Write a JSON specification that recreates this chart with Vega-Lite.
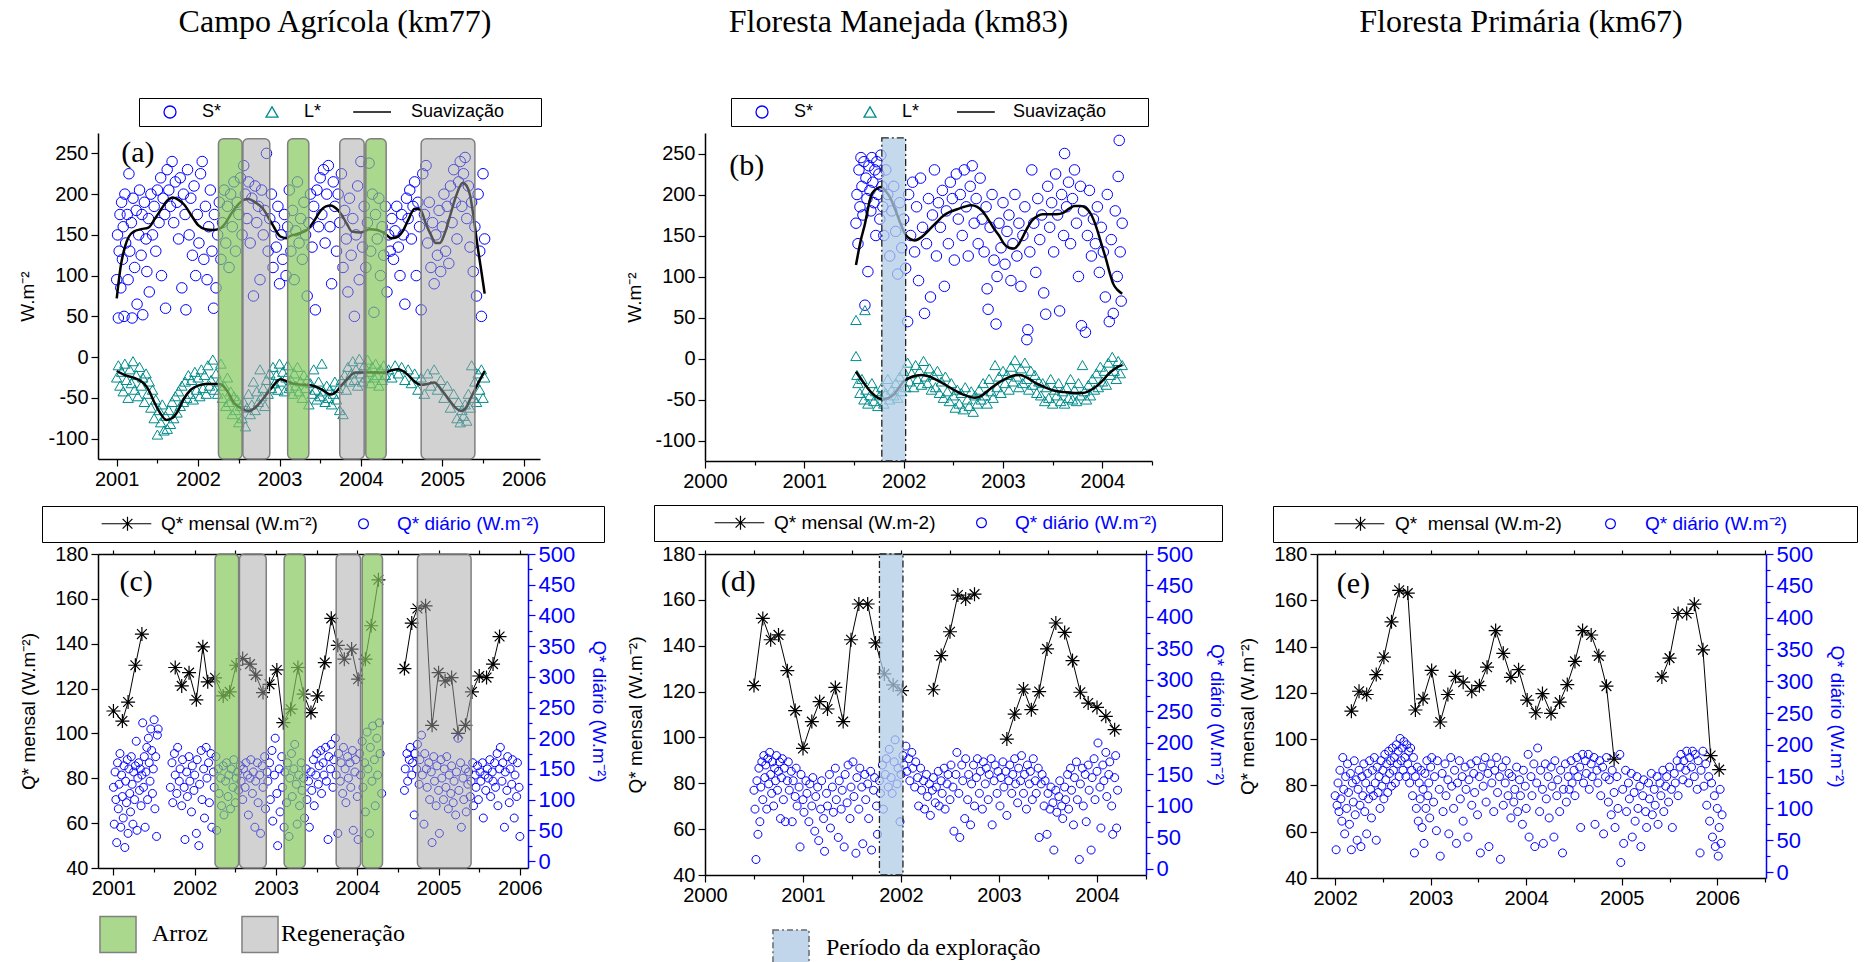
{
"$schema": "https://vega.github.io/schema/vega-lite/v6.json",
"padding": {"left": 18, "top": 5, "right": 5, "bottom": 0},
"bounds": "flush",
"columns": 3,
"spacing": {"row": 93, "column": 165},
"config": {
  "font": "Liberation Sans",
  "view": {"stroke": null},
  "point": {"opacity": 1},
  "axis": {"labelFont": "Liberation Sans", "labelFontSize": 20, "labelColor": "black", "titleFont": "Liberation Sans", "titleFontSize": 19, "titleFontWeight": "normal", "titleColor": "black", "domainColor": "black", "domainWidth": 1.5, "tickColor": "black", "tickWidth": 1.2, "grid": false, "labelPadding": 3, "labelOverlap": false, "labelFlush": false},
  "legend": {"labelFont": "Liberation Sans", "labelFontSize": 19, "labelColor": "black", "labelLimit": 500},
  "title": {"font": "Liberation Serif", "fontSize": 32, "fontWeight": "normal", "color": "black"}
},
"resolve": {"scale": {"x": "independent", "y": "independent", "stroke": "independent", "shape": "independent", "fill": "independent"}, "legend": {"stroke": "independent", "shape": "independent", "fill": "independent"}, "axis": {"x": "independent", "y": "independent"}},
"datasets": {
"aS": [{"t":2001.00,"v":95},{"t":2001.01,"v":150},{"t":2001.02,"v":48},{"t":2001.03,"v":130},{"t":2001.04,"v":175},{"t":2001.05,"v":85},{"t":2001.06,"v":190},{"t":2001.07,"v":120},{"t":2001.08,"v":160},{"t":2001.09,"v":50},{"t":2001.10,"v":200},{"t":2001.11,"v":140},{"t":2001.13,"v":175},{"t":2001.14,"v":95},{"t":2001.15,"v":225},{"t":2001.16,"v":130},{"t":2001.18,"v":165},{"t":2001.19,"v":48},{"t":2001.20,"v":195},{"t":2001.22,"v":110},{"t":2001.24,"v":180},{"t":2001.25,"v":65},{"t":2001.27,"v":150},{"t":2001.28,"v":205},{"t":2001.30,"v":125},{"t":2001.31,"v":175},{"t":2001.32,"v":52},{"t":2001.34,"v":190},{"t":2001.36,"v":145},{"t":2001.37,"v":105},{"t":2001.39,"v":170},{"t":2001.40,"v":80},{"t":2001.42,"v":200},{"t":2001.44,"v":150},{"t":2001.46,"v":185},{"t":2001.48,"v":130},{"t":2001.50,"v":205},{"t":2001.52,"v":165},{"t":2001.54,"v":220},{"t":2001.55,"v":100},{"t":2001.57,"v":195},{"t":2001.59,"v":175},{"t":2001.60,"v":60},{"t":2001.62,"v":230},{"t":2001.64,"v":205},{"t":2001.66,"v":185},{"t":2001.68,"v":240},{"t":2001.70,"v":165},{"t":2001.72,"v":215},{"t":2001.74,"v":190},{"t":2001.76,"v":145},{"t":2001.78,"v":220},{"t":2001.80,"v":85},{"t":2001.82,"v":200},{"t":2001.84,"v":175},{"t":2001.85,"v":58},{"t":2001.87,"v":230},{"t":2001.89,"v":150},{"t":2001.91,"v":195},{"t":2001.93,"v":125},{"t":2001.95,"v":210},{"t":2001.97,"v":100},{"t":2001.99,"v":175},{"t":2002.01,"v":140},{"t":2002.03,"v":225},{"t":2002.05,"v":240},{"t":2002.07,"v":120},{"t":2002.09,"v":185},{"t":2002.11,"v":95},{"t":2002.13,"v":160},{"t":2002.15,"v":205},{"t":2002.17,"v":130},{"t":2002.19,"v":60},{"t":2002.20,"v":175},{"t":2002.22,"v":85},{"t":2002.24,"v":150},{"t":2002.26,"v":190},{"t":2002.28,"v":120},{"t":2002.30,"v":165},{"t":2002.32,"v":205},{"t":2002.34,"v":140},{"t":2002.36,"v":185},{"t":2002.38,"v":110},{"t":2002.40,"v":200},{"t":2002.42,"v":160},{"t":2002.44,"v":215},{"t":2002.46,"v":130},{"t":2002.48,"v":190},{"t":2002.50,"v":175},{"t":2002.52,"v":220},{"t":2002.54,"v":150},{"t":2002.56,"v":235},{"t":2002.58,"v":200},{"t":2002.60,"v":170},{"t":2002.62,"v":215},{"t":2002.64,"v":140},{"t":2002.66,"v":195},{"t":2002.68,"v":75},{"t":2002.70,"v":210},{"t":2002.72,"v":165},{"t":2002.74,"v":185},{"t":2002.76,"v":95},{"t":2002.78,"v":205},{"t":2002.80,"v":150},{"t":2002.82,"v":180},{"t":2002.84,"v":250},{"t":2002.86,"v":130},{"t":2002.88,"v":170},{"t":2002.90,"v":200},{"t":2002.92,"v":110},{"t":2002.94,"v":160},{"t":2002.96,"v":135},{"t":2002.98,"v":185},{"t":2003.00,"v":90},{"t":2003.02,"v":150},{"t":2003.04,"v":120},{"t":2003.06,"v":175},{"t":2003.08,"v":100},{"t":2003.10,"v":160},{"t":2003.12,"v":205},{"t":2003.14,"v":130},{"t":2003.16,"v":180},{"t":2003.18,"v":95},{"t":2003.20,"v":155},{"t":2003.22,"v":215},{"t":2003.24,"v":140},{"t":2003.26,"v":170},{"t":2003.28,"v":120},{"t":2003.30,"v":190},{"t":2003.32,"v":150},{"t":2003.34,"v":75},{"t":2003.36,"v":165},{"t":2003.38,"v":200},{"t":2003.40,"v":135},{"t":2003.42,"v":185},{"t":2003.44,"v":58},{"t":2003.46,"v":205},{"t":2003.48,"v":160},{"t":2003.50,"v":220},{"t":2003.52,"v":175},{"t":2003.54,"v":230},{"t":2003.56,"v":140},{"t":2003.58,"v":200},{"t":2003.60,"v":235},{"t":2003.62,"v":160},{"t":2003.64,"v":90},{"t":2003.66,"v":215},{"t":2003.68,"v":185},{"t":2003.70,"v":130},{"t":2003.72,"v":200},{"t":2003.74,"v":165},{"t":2003.76,"v":225},{"t":2003.78,"v":110},{"t":2003.80,"v":180},{"t":2003.82,"v":145},{"t":2003.84,"v":80},{"t":2003.86,"v":195},{"t":2003.88,"v":125},{"t":2003.90,"v":170},{"t":2003.92,"v":50},{"t":2003.94,"v":150},{"t":2003.96,"v":210},{"t":2003.98,"v":95},{"t":2004.00,"v":240},{"t":2004.02,"v":135},{"t":2004.04,"v":185},{"t":2004.06,"v":110},{"t":2004.08,"v":165},{"t":2004.10,"v":238},{"t":2004.12,"v":130},{"t":2004.14,"v":200},{"t":2004.16,"v":55},{"t":2004.18,"v":175},{"t":2004.20,"v":145},{"t":2004.22,"v":195},{"t":2004.24,"v":100},{"t":2004.26,"v":160},{"t":2004.28,"v":125},{"t":2004.30,"v":185},{"t":2004.32,"v":80},{"t":2004.34,"v":150},{"t":2004.36,"v":130},{"t":2004.38,"v":170},{"t":2004.40,"v":120},{"t":2004.42,"v":155},{"t":2004.44,"v":185},{"t":2004.46,"v":135},{"t":2004.48,"v":100},{"t":2004.50,"v":175},{"t":2004.52,"v":150},{"t":2004.54,"v":65},{"t":2004.56,"v":195},{"t":2004.58,"v":170},{"t":2004.60,"v":205},{"t":2004.62,"v":145},{"t":2004.64,"v":185},{"t":2004.66,"v":215},{"t":2004.68,"v":100},{"t":2004.70,"v":190},{"t":2004.72,"v":160},{"t":2004.74,"v":58},{"t":2004.76,"v":225},{"t":2004.78,"v":175},{"t":2004.80,"v":235},{"t":2004.82,"v":140},{"t":2004.84,"v":190},{"t":2004.86,"v":110},{"t":2004.88,"v":165},{"t":2004.90,"v":90},{"t":2004.92,"v":150},{"t":2004.94,"v":125},{"t":2004.96,"v":180},{"t":2004.98,"v":105},{"t":2005.00,"v":160},{"t":2005.02,"v":200},{"t":2005.04,"v":130},{"t":2005.06,"v":185},{"t":2005.08,"v":115},{"t":2005.10,"v":210},{"t":2005.12,"v":165},{"t":2005.14,"v":230},{"t":2005.16,"v":190},{"t":2005.18,"v":145},{"t":2005.20,"v":215},{"t":2005.22,"v":240},{"t":2005.24,"v":185},{"t":2005.26,"v":225},{"t":2005.28,"v":245},{"t":2005.30,"v":170},{"t":2005.32,"v":210},{"t":2005.34,"v":135},{"t":2005.36,"v":190},{"t":2005.38,"v":105},{"t":2005.40,"v":160},{"t":2005.42,"v":75},{"t":2005.44,"v":200},{"t":2005.46,"v":130},{"t":2005.48,"v":50},{"t":2005.50,"v":225},{"t":2005.52,"v":145}],
"aL": [{"t":2001.00,"v":-25},{"t":2001.02,"v":-10},{"t":2001.04,"v":-35},{"t":2001.06,"v":-18},{"t":2001.08,"v":-42},{"t":2001.10,"v":-8},{"t":2001.12,"v":-28},{"t":2001.14,"v":-50},{"t":2001.16,"v":-15},{"t":2001.18,"v":-32},{"t":2001.20,"v":-5},{"t":2001.22,"v":-40},{"t":2001.24,"v":-22},{"t":2001.26,"v":-48},{"t":2001.28,"v":-12},{"t":2001.30,"v":-35},{"t":2001.32,"v":-25},{"t":2001.34,"v":-55},{"t":2001.36,"v":-20},{"t":2001.38,"v":-45},{"t":2001.40,"v":-30},{"t":2001.42,"v":-62},{"t":2001.44,"v":-40},{"t":2001.46,"v":-75},{"t":2001.48,"v":-52},{"t":2001.50,"v":-95},{"t":2001.52,"v":-65},{"t":2001.54,"v":-80},{"t":2001.56,"v":-58},{"t":2001.58,"v":-90},{"t":2001.60,"v":-72},{"t":2001.62,"v":-88},{"t":2001.64,"v":-65},{"t":2001.66,"v":-82},{"t":2001.68,"v":-55},{"t":2001.70,"v":-75},{"t":2001.72,"v":-48},{"t":2001.74,"v":-68},{"t":2001.76,"v":-42},{"t":2001.78,"v":-60},{"t":2001.80,"v":-35},{"t":2001.82,"v":-55},{"t":2001.84,"v":-30},{"t":2001.86,"v":-50},{"t":2001.88,"v":-22},{"t":2001.90,"v":-45},{"t":2001.92,"v":-28},{"t":2001.94,"v":-52},{"t":2001.96,"v":-18},{"t":2001.98,"v":-40},{"t":2002.00,"v":-25},{"t":2002.02,"v":-48},{"t":2002.04,"v":-15},{"t":2002.06,"v":-38},{"t":2002.08,"v":-22},{"t":2002.10,"v":-45},{"t":2002.12,"v":-10},{"t":2002.14,"v":-35},{"t":2002.16,"v":-28},{"t":2002.18,"v":-3},{"t":2002.20,"v":-40},{"t":2002.22,"v":-20},{"t":2002.24,"v":-45},{"t":2002.26,"v":-30},{"t":2002.28,"v":-8},{"t":2002.30,"v":-50},{"t":2002.32,"v":-35},{"t":2002.34,"v":-60},{"t":2002.36,"v":-25},{"t":2002.38,"v":-55},{"t":2002.40,"v":-42},{"t":2002.42,"v":-70},{"t":2002.44,"v":-48},{"t":2002.46,"v":-65},{"t":2002.48,"v":-52},{"t":2002.50,"v":-80},{"t":2002.52,"v":-60},{"t":2002.54,"v":-75},{"t":2002.56,"v":-55},{"t":2002.58,"v":-85},{"t":2002.60,"v":-62},{"t":2002.62,"v":-45},{"t":2002.64,"v":-70},{"t":2002.66,"v":-58},{"t":2002.68,"v":-30},{"t":2002.70,"v":-65},{"t":2002.72,"v":-42},{"t":2002.74,"v":-55},{"t":2002.76,"v":-15},{"t":2002.78,"v":-48},{"t":2002.80,"v":-38},{"t":2002.82,"v":-60},{"t":2002.84,"v":-28},{"t":2002.86,"v":-45},{"t":2002.88,"v":-20},{"t":2002.90,"v":-38},{"t":2002.92,"v":-12},{"t":2002.94,"v":-32},{"t":2002.96,"v":-22},{"t":2002.98,"v":-40},{"t":2003.00,"v":-8},{"t":2003.02,"v":-30},{"t":2003.04,"v":-18},{"t":2003.06,"v":-42},{"t":2003.08,"v":-25},{"t":2003.10,"v":-10},{"t":2003.12,"v":-38},{"t":2003.14,"v":-28},{"t":2003.16,"v":-45},{"t":2003.18,"v":-20},{"t":2003.20,"v":-35},{"t":2003.22,"v":-12},{"t":2003.24,"v":-42},{"t":2003.26,"v":-30},{"t":2003.28,"v":-50},{"t":2003.30,"v":-22},{"t":2003.32,"v":-38},{"t":2003.34,"v":-28},{"t":2003.36,"v":-58},{"t":2003.38,"v":-32},{"t":2003.40,"v":-45},{"t":2003.42,"v":-15},{"t":2003.44,"v":-40},{"t":2003.46,"v":-52},{"t":2003.48,"v":-30},{"t":2003.50,"v":-48},{"t":2003.52,"v":-8},{"t":2003.54,"v":-42},{"t":2003.56,"v":-55},{"t":2003.58,"v":-35},{"t":2003.60,"v":-50},{"t":2003.62,"v":-40},{"t":2003.64,"v":-58},{"t":2003.66,"v":-45},{"t":2003.68,"v":-30},{"t":2003.70,"v":-52},{"t":2003.72,"v":-38},{"t":2003.74,"v":-65},{"t":2003.76,"v":-28},{"t":2003.78,"v":-70},{"t":2003.80,"v":-22},{"t":2003.82,"v":-40},{"t":2003.84,"v":-12},{"t":2003.86,"v":-30},{"t":2003.88,"v":-20},{"t":2003.90,"v":-5},{"t":2003.92,"v":-28},{"t":2003.94,"v":-15},{"t":2003.96,"v":-35},{"t":2003.98,"v":-2},{"t":2004.00,"v":-20},{"t":2004.02,"v":-30},{"t":2004.04,"v":-10},{"t":2004.06,"v":-25},{"t":2004.08,"v":-3},{"t":2004.10,"v":-18},{"t":2004.12,"v":-32},{"t":2004.14,"v":-12},{"t":2004.16,"v":-25},{"t":2004.18,"v":-8},{"t":2004.20,"v":-22},{"t":2004.22,"v":-35},{"t":2004.24,"v":-15},{"t":2004.26,"v":-28},{"t":2004.28,"v":-10},{"t":2004.30,"v":-22},{"t":2004.34,"v":-15},{"t":2004.38,"v":-25},{"t":2004.42,"v":-10},{"t":2004.46,"v":-20},{"t":2004.50,"v":-12},{"t":2004.54,"v":-28},{"t":2004.58,"v":-15},{"t":2004.62,"v":-32},{"t":2004.66,"v":-20},{"t":2004.70,"v":-40},{"t":2004.74,"v":-25},{"t":2004.78,"v":-45},{"t":2004.82,"v":-20},{"t":2004.86,"v":-35},{"t":2004.90,"v":-15},{"t":2004.94,"v":-40},{"t":2004.98,"v":-28},{"t":2005.02,"v":-50},{"t":2005.06,"v":-35},{"t":2005.10,"v":-62},{"t":2005.14,"v":-45},{"t":2005.18,"v":-75},{"t":2005.20,"v":-55},{"t":2005.22,"v":-80},{"t":2005.24,"v":-65},{"t":2005.26,"v":-72},{"t":2005.28,"v":-58},{"t":2005.30,"v":-78},{"t":2005.32,"v":-45},{"t":2005.34,"v":-62},{"t":2005.36,"v":-10},{"t":2005.38,"v":-50},{"t":2005.40,"v":-30},{"t":2005.42,"v":-55},{"t":2005.44,"v":-20},{"t":2005.46,"v":-40},{"t":2005.48,"v":-15},{"t":2005.50,"v":-50},{"t":2005.52,"v":-25}],
"aSs": [{"t":2001.0,"v":72},{"t":2001.05,"v":112},{"t":2001.1,"v":135},{"t":2001.15,"v":148},{"t":2001.21,"v":154},{"t":2001.3,"v":157},{"t":2001.39,"v":159},{"t":2001.47,"v":170},{"t":2001.55,"v":182},{"t":2001.62,"v":192},{"t":2001.69,"v":196},{"t":2001.76,"v":193},{"t":2001.83,"v":187},{"t":2001.91,"v":175},{"t":2002.0,"v":162},{"t":2002.09,"v":157},{"t":2002.18,"v":156},{"t":2002.27,"v":158},{"t":2002.34,"v":165},{"t":2002.4,"v":175},{"t":2002.5,"v":188},{"t":2002.56,"v":193},{"t":2002.62,"v":194},{"t":2002.7,"v":190},{"t":2002.79,"v":183},{"t":2002.9,"v":165},{"t":2003.01,"v":148},{"t":2003.08,"v":146},{"t":2003.14,"v":149},{"t":2003.25,"v":152},{"t":2003.36,"v":158},{"t":2003.43,"v":168},{"t":2003.5,"v":179},{"t":2003.57,"v":185},{"t":2003.63,"v":186},{"t":2003.7,"v":182},{"t":2003.76,"v":175},{"t":2003.83,"v":163},{"t":2003.89,"v":154},{"t":2004.0,"v":153},{"t":2004.11,"v":157},{"t":2004.2,"v":156},{"t":2004.29,"v":152},{"t":2004.37,"v":146},{"t":2004.44,"v":147},{"t":2004.51,"v":154},{"t":2004.58,"v":168},{"t":2004.66,"v":182},{"t":2004.73,"v":181},{"t":2004.8,"v":163},{"t":2004.86,"v":150},{"t":2004.92,"v":140},{"t":2004.97,"v":140},{"t":2005.03,"v":152},{"t":2005.1,"v":175},{"t":2005.17,"v":198},{"t":2005.25,"v":214},{"t":2005.3,"v":210},{"t":2005.34,"v":199},{"t":2005.38,"v":175},{"t":2005.43,"v":138},{"t":2005.48,"v":105},{"t":2005.52,"v":78}],
"aLs": [{"t":2001.0,"v":-17},{"t":2001.1,"v":-22},{"t":2001.25,"v":-27},{"t":2001.33,"v":-32},{"t":2001.39,"v":-40},{"t":2001.46,"v":-55},{"t":2001.53,"v":-68},{"t":2001.61,"v":-77},{"t":2001.68,"v":-75},{"t":2001.74,"v":-68},{"t":2001.82,"v":-52},{"t":2001.91,"v":-40},{"t":2002.0,"v":-35},{"t":2002.09,"v":-33},{"t":2002.27,"v":-33},{"t":2002.36,"v":-42},{"t":2002.44,"v":-56},{"t":2002.53,"v":-63},{"t":2002.62,"v":-66},{"t":2002.7,"v":-62},{"t":2002.79,"v":-52},{"t":2002.9,"v":-38},{"t":2003.01,"v":-27},{"t":2003.1,"v":-30},{"t":2003.19,"v":-33},{"t":2003.3,"v":-34},{"t":2003.41,"v":-35},{"t":2003.52,"v":-40},{"t":2003.63,"v":-46},{"t":2003.7,"v":-42},{"t":2003.76,"v":-35},{"t":2003.85,"v":-25},{"t":2003.93,"v":-19},{"t":2004.11,"v":-19},{"t":2004.29,"v":-19},{"t":2004.38,"v":-16},{"t":2004.46,"v":-15},{"t":2004.53,"v":-18},{"t":2004.59,"v":-23},{"t":2004.66,"v":-30},{"t":2004.73,"v":-34},{"t":2004.82,"v":-33},{"t":2004.9,"v":-31},{"t":2004.99,"v":-40},{"t":2005.08,"v":-52},{"t":2005.16,"v":-62},{"t":2005.23,"v":-66},{"t":2005.29,"v":-62},{"t":2005.34,"v":-52},{"t":2005.4,"v":-40},{"t":2005.45,"v":-30},{"t":2005.52,"v":-17}],
"bS": [{"t":2001.52,"v":165},{"t":2001.53,"v":200},{"t":2001.54,"v":140},{"t":2001.55,"v":230},{"t":2001.56,"v":185},{"t":2001.57,"v":245},{"t":2001.58,"v":210},{"t":2001.59,"v":175},{"t":2001.60,"v":240},{"t":2001.61,"v":65},{"t":2001.62,"v":220},{"t":2001.63,"v":195},{"t":2001.64,"v":106},{"t":2001.65,"v":235},{"t":2001.66,"v":205},{"t":2001.67,"v":180},{"t":2001.68,"v":245},{"t":2001.69,"v":215},{"t":2001.70,"v":190},{"t":2001.71,"v":230},{"t":2001.72,"v":150},{"t":2001.73,"v":240},{"t":2001.74,"v":200},{"t":2001.75,"v":225},{"t":2001.76,"v":170},{"t":2001.77,"v":248},{"t":2001.78,"v":210},{"t":2001.79,"v":185},{"t":2001.80,"v":150},{"t":2001.82,"v":230},{"t":2001.84,"v":200},{"t":2001.86,"v":125},{"t":2001.88,"v":180},{"t":2001.90,"v":210},{"t":2001.92,"v":155},{"t":2001.94,"v":103},{"t":2001.96,"v":190},{"t":2001.98,"v":135},{"t":2002.00,"v":170},{"t":2002.02,"v":110},{"t":2002.04,"v":45},{"t":2002.05,"v":200},{"t":2002.07,"v":150},{"t":2002.09,"v":215},{"t":2002.11,"v":130},{"t":2002.13,"v":185},{"t":2002.15,"v":95},{"t":2002.17,"v":220},{"t":2002.19,"v":160},{"t":2002.21,"v":55},{"t":2002.23,"v":140},{"t":2002.25,"v":195},{"t":2002.27,"v":75},{"t":2002.29,"v":175},{"t":2002.31,"v":230},{"t":2002.33,"v":125},{"t":2002.35,"v":190},{"t":2002.37,"v":160},{"t":2002.39,"v":205},{"t":2002.41,"v":88},{"t":2002.43,"v":180},{"t":2002.45,"v":140},{"t":2002.47,"v":215},{"t":2002.49,"v":195},{"t":2002.51,"v":120},{"t":2002.53,"v":225},{"t":2002.55,"v":170},{"t":2002.57,"v":200},{"t":2002.59,"v":150},{"t":2002.61,"v":230},{"t":2002.63,"v":185},{"t":2002.65,"v":125},{"t":2002.67,"v":210},{"t":2002.69,"v":235},{"t":2002.71,"v":165},{"t":2002.73,"v":195},{"t":2002.75,"v":140},{"t":2002.77,"v":220},{"t":2002.79,"v":170},{"t":2002.81,"v":130},{"t":2002.83,"v":185},{"t":2002.84,"v":85},{"t":2002.85,"v":60},{"t":2002.87,"v":160},{"t":2002.89,"v":200},{"t":2002.91,"v":120},{"t":2002.93,"v":42},{"t":2002.94,"v":100},{"t":2002.96,"v":165},{"t":2002.98,"v":135},{"t":2003.00,"v":190},{"t":2003.02,"v":115},{"t":2003.04,"v":155},{"t":2003.06,"v":175},{"t":2003.08,"v":95},{"t":2003.10,"v":140},{"t":2003.12,"v":200},{"t":2003.14,"v":125},{"t":2003.16,"v":165},{"t":2003.18,"v":88},{"t":2003.20,"v":150},{"t":2003.22,"v":185},{"t":2003.24,"v":23},{"t":2003.25,"v":35},{"t":2003.27,"v":130},{"t":2003.29,"v":230},{"t":2003.31,"v":165},{"t":2003.33,"v":105},{"t":2003.35,"v":195},{"t":2003.37,"v":145},{"t":2003.39,"v":175},{"t":2003.41,"v":80},{"t":2003.43,"v":54},{"t":2003.45,"v":210},{"t":2003.47,"v":160},{"t":2003.49,"v":190},{"t":2003.51,"v":130},{"t":2003.53,"v":225},{"t":2003.55,"v":175},{"t":2003.57,"v":58},{"t":2003.59,"v":200},{"t":2003.61,"v":150},{"t":2003.62,"v":250},{"t":2003.64,"v":185},{"t":2003.66,"v":215},{"t":2003.68,"v":140},{"t":2003.70,"v":195},{"t":2003.72,"v":230},{"t":2003.74,"v":165},{"t":2003.76,"v":100},{"t":2003.78,"v":210},{"t":2003.79,"v":40},{"t":2003.81,"v":180},{"t":2003.83,"v":32},{"t":2003.85,"v":150},{"t":2003.87,"v":205},{"t":2003.89,"v":125},{"t":2003.91,"v":170},{"t":2003.93,"v":140},{"t":2003.95,"v":185},{"t":2003.97,"v":105},{"t":2003.99,"v":160},{"t":2004.01,"v":130},{"t":2004.03,"v":75},{"t":2004.05,"v":200},{"t":2004.07,"v":45},{"t":2004.09,"v":145},{"t":2004.11,"v":55},{"t":2004.13,"v":180},{"t":2004.15,"v":100},{"t":2004.16,"v":222},{"t":2004.17,"v":266},{"t":2004.18,"v":130},{"t":2004.19,"v":70},{"t":2004.20,"v":165}],
"bL": [{"t":2001.52,"v":47},{"t":2001.52,"v":3},{"t":2001.61,"v":59},{"t":2001.53,"v":-20},{"t":2001.54,"v":-30},{"t":2001.56,"v":-42},{"t":2001.58,"v":-25},{"t":2001.60,"v":-50},{"t":2001.62,"v":-38},{"t":2001.64,"v":-55},{"t":2001.66,"v":-45},{"t":2001.68,"v":-30},{"t":2001.70,"v":-52},{"t":2001.72,"v":-40},{"t":2001.74,"v":-58},{"t":2001.76,"v":-45},{"t":2001.78,"v":-35},{"t":2001.80,"v":-55},{"t":2001.82,"v":-42},{"t":2001.84,"v":-25},{"t":2001.86,"v":-50},{"t":2001.88,"v":-38},{"t":2001.90,"v":-45},{"t":2001.92,"v":-30},{"t":2001.94,"v":-48},{"t":2001.96,"v":-22},{"t":2001.98,"v":-40},{"t":2002.00,"v":-15},{"t":2002.02,"v":-35},{"t":2002.04,"v":-5},{"t":2002.06,"v":-28},{"t":2002.08,"v":-18},{"t":2002.10,"v":-35},{"t":2002.12,"v":-8},{"t":2002.14,"v":-25},{"t":2002.16,"v":-15},{"t":2002.18,"v":-32},{"t":2002.20,"v":-3},{"t":2002.22,"v":-22},{"t":2002.24,"v":-30},{"t":2002.26,"v":-12},{"t":2002.28,"v":-38},{"t":2002.30,"v":-20},{"t":2002.32,"v":-35},{"t":2002.34,"v":-15},{"t":2002.36,"v":-42},{"t":2002.38,"v":-28},{"t":2002.40,"v":-48},{"t":2002.42,"v":-22},{"t":2002.44,"v":-40},{"t":2002.46,"v":-52},{"t":2002.48,"v":-30},{"t":2002.50,"v":-45},{"t":2002.52,"v":-60},{"t":2002.54,"v":-38},{"t":2002.56,"v":-55},{"t":2002.58,"v":-42},{"t":2002.60,"v":-62},{"t":2002.62,"v":-35},{"t":2002.64,"v":-50},{"t":2002.66,"v":-58},{"t":2002.68,"v":-40},{"t":2002.70,"v":-65},{"t":2002.72,"v":-45},{"t":2002.74,"v":-55},{"t":2002.76,"v":-38},{"t":2002.78,"v":-50},{"t":2002.80,"v":-30},{"t":2002.82,"v":-45},{"t":2002.84,"v":-55},{"t":2002.86,"v":-25},{"t":2002.88,"v":-40},{"t":2002.90,"v":-48},{"t":2002.92,"v":-8},{"t":2002.94,"v":-35},{"t":2002.96,"v":-22},{"t":2002.98,"v":-42},{"t":2003.00,"v":-15},{"t":2003.02,"v":-30},{"t":2003.04,"v":-20},{"t":2003.06,"v":-38},{"t":2003.08,"v":-10},{"t":2003.10,"v":-28},{"t":2003.12,"v":-2},{"t":2003.14,"v":-22},{"t":2003.16,"v":-35},{"t":2003.18,"v":-12},{"t":2003.20,"v":-30},{"t":2003.22,"v":-5},{"t":2003.24,"v":-25},{"t":2003.26,"v":-38},{"t":2003.28,"v":-15},{"t":2003.30,"v":-32},{"t":2003.32,"v":-20},{"t":2003.34,"v":-42},{"t":2003.36,"v":-28},{"t":2003.38,"v":-45},{"t":2003.40,"v":-30},{"t":2003.42,"v":-52},{"t":2003.44,"v":-35},{"t":2003.46,"v":-48},{"t":2003.48,"v":-25},{"t":2003.50,"v":-55},{"t":2003.52,"v":-38},{"t":2003.54,"v":-45},{"t":2003.56,"v":-30},{"t":2003.58,"v":-52},{"t":2003.60,"v":-40},{"t":2003.62,"v":-55},{"t":2003.64,"v":-35},{"t":2003.66,"v":-48},{"t":2003.68,"v":-25},{"t":2003.70,"v":-50},{"t":2003.72,"v":-38},{"t":2003.74,"v":-52},{"t":2003.76,"v":-30},{"t":2003.78,"v":-45},{"t":2003.80,"v":-8},{"t":2003.82,"v":-40},{"t":2003.84,"v":-50},{"t":2003.86,"v":-32},{"t":2003.88,"v":-45},{"t":2003.90,"v":-25},{"t":2003.92,"v":-38},{"t":2003.94,"v":-18},{"t":2003.96,"v":-35},{"t":2003.98,"v":-10},{"t":2004.00,"v":-28},{"t":2004.02,"v":-15},{"t":2004.04,"v":-32},{"t":2004.06,"v":-5},{"t":2004.08,"v":-20},{"t":2004.10,"v":2},{"t":2004.12,"v":-15},{"t":2004.14,"v":-25},{"t":2004.16,"v":-3},{"t":2004.18,"v":-18},{"t":2004.20,"v":-8}],
"bSs": [{"t":2001.52,"v":114},{"t":2001.57,"v":145},{"t":2001.61,"v":164},{"t":2001.65,"v":188},{"t":2001.68,"v":201},{"t":2001.73,"v":207},{"t":2001.77,"v":209},{"t":2001.82,"v":204},{"t":2001.86,"v":197},{"t":2001.92,"v":180},{"t":2001.97,"v":164},{"t":2002.01,"v":153},{"t":2002.04,"v":148},{"t":2002.11,"v":144},{"t":2002.18,"v":148},{"t":2002.25,"v":156},{"t":2002.33,"v":166},{"t":2002.4,"v":174},{"t":2002.47,"v":179},{"t":2002.54,"v":182},{"t":2002.61,"v":185},{"t":2002.68,"v":187},{"t":2002.74,"v":185},{"t":2002.79,"v":180},{"t":2002.85,"v":170},{"t":2002.9,"v":160},{"t":2002.96,"v":150},{"t":2003.01,"v":140},{"t":2003.06,"v":135},{"t":2003.11,"v":134},{"t":2003.15,"v":138},{"t":2003.18,"v":144},{"t":2003.24,"v":158},{"t":2003.29,"v":168},{"t":2003.35,"v":174},{"t":2003.4,"v":176},{"t":2003.47,"v":176},{"t":2003.54,"v":176},{"t":2003.61,"v":178},{"t":2003.67,"v":183},{"t":2003.72,"v":186},{"t":2003.78,"v":186},{"t":2003.83,"v":184},{"t":2003.89,"v":175},{"t":2003.94,"v":160},{"t":2003.99,"v":140},{"t":2004.04,"v":120},{"t":2004.08,"v":102},{"t":2004.11,"v":91},{"t":2004.15,"v":84},{"t":2004.2,"v":79}],
"bLs": [{"t":2001.52,"v":-16},{"t":2001.6,"v":-30},{"t":2001.68,"v":-42},{"t":2001.74,"v":-48},{"t":2001.79,"v":-50},{"t":2001.85,"v":-48},{"t":2001.9,"v":-44},{"t":2001.95,"v":-36},{"t":2002.0,"v":-28},{"t":2002.09,"v":-22},{"t":2002.18,"v":-20},{"t":2002.26,"v":-22},{"t":2002.33,"v":-26},{"t":2002.42,"v":-32},{"t":2002.5,"v":-38},{"t":2002.6,"v":-44},{"t":2002.72,"v":-48},{"t":2002.79,"v":-45},{"t":2002.86,"v":-38},{"t":2002.95,"v":-30},{"t":2003.04,"v":-24},{"t":2003.1,"v":-21},{"t":2003.17,"v":-20},{"t":2003.25,"v":-24},{"t":2003.33,"v":-30},{"t":2003.42,"v":-35},{"t":2003.51,"v":-39},{"t":2003.62,"v":-41},{"t":2003.72,"v":-42},{"t":2003.8,"v":-42},{"t":2003.86,"v":-40},{"t":2003.94,"v":-34},{"t":2004.01,"v":-26},{"t":2004.06,"v":-19},{"t":2004.11,"v":-14},{"t":2004.16,"v":-10},{"t":2004.2,"v":-8}],
"cM": [{"t":2001.0,"v":110,"g":1},{"t":2001.11,"v":105.5,"g":1},{"t":2001.18,"v":114,"g":1},{"t":2001.27,"v":130.4,"g":1},{"t":2001.35,"v":144.3,"g":1},{"t":2001.76,"v":129.4,"g":2},{"t":2001.84,"v":121.2,"g":2},{"t":2001.93,"v":127.1,"g":2},{"t":2002.02,"v":115,"g":2},{"t":2002.1,"v":138.6,"g":2},{"t":2002.16,"v":123,"g":2},{"t":2002.25,"v":124.8,"g":2},{"t":2002.35,"v":116.7,"g":2},{"t":2002.43,"v":118.5,"g":2},{"t":2002.51,"v":130.4,"g":2},{"t":2002.59,"v":133.4,"g":2},{"t":2002.68,"v":130.9,"g":2},{"t":2002.75,"v":126,"g":2},{"t":2002.84,"v":118.2,"g":2},{"t":2002.92,"v":121.9,"g":2},{"t":2003.01,"v":128.3,"g":2},{"t":2003.09,"v":104.8,"g":2},{"t":2003.18,"v":110.8,"g":2},{"t":2003.27,"v":129.4,"g":2},{"t":2003.34,"v":117.5,"g":2},{"t":2003.43,"v":109.3,"g":2},{"t":2003.51,"v":116.7,"g":2},{"t":2003.6,"v":131.6,"g":2},{"t":2003.68,"v":151.3,"g":2},{"t":2003.76,"v":139.3,"g":2},{"t":2003.84,"v":133.1,"g":2},{"t":2003.93,"v":137.6,"g":2},{"t":2004.01,"v":124.2,"g":2},{"t":2004.1,"v":133.1,"g":2},{"t":2004.17,"v":148,"g":2},{"t":2004.26,"v":168.5,"g":2},{"t":2004.58,"v":128.9,"g":3},{"t":2004.67,"v":149.2,"g":3},{"t":2004.74,"v":155.7,"g":3},{"t":2004.84,"v":156.9,"g":3},{"t":2004.92,"v":103.6,"g":3},{"t":2005.0,"v":127.1,"g":3},{"t":2005.08,"v":123.4,"g":3},{"t":2005.16,"v":124.9,"g":3},{"t":2005.24,"v":100,"g":3},{"t":2005.33,"v":103.6,"g":3},{"t":2005.41,"v":118.5,"g":3},{"t":2005.5,"v":125.6,"g":3},{"t":2005.59,"v":124.9,"g":3},{"t":2005.67,"v":130.9,"g":3},{"t":2005.75,"v":143.2,"g":3}],
"cD": [{"t":2001.00,"v":120},{"t":2001.01,"v":60},{"t":2001.02,"v":145},{"t":2001.03,"v":100},{"t":2001.04,"v":30},{"t":2001.05,"v":160},{"t":2001.06,"v":85},{"t":2001.07,"v":125},{"t":2001.08,"v":175},{"t":2001.09,"v":55},{"t":2001.10,"v":140},{"t":2001.11,"v":105},{"t":2001.12,"v":70},{"t":2001.13,"v":155},{"t":2001.14,"v":22},{"t":2001.15,"v":130},{"t":2001.16,"v":95},{"t":2001.17,"v":165},{"t":2001.18,"v":45},{"t":2001.19,"v":150},{"t":2001.20,"v":110},{"t":2001.21,"v":80},{"t":2001.22,"v":170},{"t":2001.23,"v":125},{"t":2001.24,"v":60},{"t":2001.25,"v":145},{"t":2001.26,"v":100},{"t":2001.27,"v":155},{"t":2001.28,"v":195},{"t":2001.29,"v":50},{"t":2001.30,"v":135},{"t":2001.31,"v":160},{"t":2001.32,"v":115},{"t":2001.33,"v":150},{"t":2001.34,"v":90},{"t":2001.35,"v":140},{"t":2001.36,"v":225},{"t":2001.37,"v":120},{"t":2001.38,"v":170},{"t":2001.39,"v":55},{"t":2001.40,"v":145},{"t":2001.41,"v":185},{"t":2001.42,"v":100},{"t":2001.43,"v":200},{"t":2001.44,"v":160},{"t":2001.45,"v":130},{"t":2001.46,"v":215},{"t":2001.47,"v":180},{"t":2001.48,"v":110},{"t":2001.49,"v":150},{"t":2001.50,"v":230},{"t":2001.51,"v":85},{"t":2001.52,"v":170},{"t":2001.53,"v":40},{"t":2001.54,"v":205},{"t":2001.55,"v":215},{"t":2001.70,"v":120},{"t":2001.72,"v":160},{"t":2001.73,"v":95},{"t":2001.75,"v":175},{"t":2001.76,"v":140},{"t":2001.78,"v":110},{"t":2001.79,"v":185},{"t":2001.81,"v":130},{"t":2001.82,"v":150},{"t":2001.84,"v":90},{"t":2001.85,"v":165},{"t":2001.87,"v":120},{"t":2001.88,"v":35},{"t":2001.90,"v":145},{"t":2001.91,"v":105},{"t":2001.93,"v":170},{"t":2001.94,"v":130},{"t":2001.96,"v":80},{"t":2001.97,"v":155},{"t":2001.99,"v":115},{"t":2002.00,"v":140},{"t":2002.02,"v":45},{"t":2002.03,"v":165},{"t":2002.05,"v":25},{"t":2002.06,"v":125},{"t":2002.08,"v":180},{"t":2002.09,"v":100},{"t":2002.11,"v":150},{"t":2002.12,"v":70},{"t":2002.14,"v":185},{"t":2002.15,"v":135},{"t":2002.17,"v":160},{"t":2002.18,"v":95},{"t":2002.20,"v":175},{"t":2002.21,"v":55},{"t":2002.23,"v":145},{"t":2002.24,"v":120},{"t":2002.26,"v":170},{"t":2002.27,"v":50},{"t":2002.29,"v":150},{"t":2002.30,"v":110},{"t":2002.32,"v":135},{"t":2002.33,"v":90},{"t":2002.35,"v":155},{"t":2002.36,"v":75},{"t":2002.38,"v":130},{"t":2002.39,"v":160},{"t":2002.41,"v":105},{"t":2002.42,"v":140},{"t":2002.44,"v":85},{"t":2002.45,"v":150},{"t":2002.47,"v":120},{"t":2002.48,"v":165},{"t":2002.50,"v":95},{"t":2002.51,"v":135},{"t":2002.53,"v":145},{"t":2002.54,"v":115},{"t":2002.56,"v":155},{"t":2002.57,"v":130},{"t":2002.59,"v":100},{"t":2002.60,"v":150},{"t":2002.62,"v":120},{"t":2002.63,"v":160},{"t":2002.65,"v":140},{"t":2002.66,"v":75},{"t":2002.68,"v":135},{"t":2002.69,"v":165},{"t":2002.71,"v":110},{"t":2002.72,"v":145},{"t":2002.74,"v":55},{"t":2002.75,"v":130},{"t":2002.77,"v":160},{"t":2002.78,"v":95},{"t":2002.80,"v":140},{"t":2002.81,"v":45},{"t":2002.83,"v":155},{"t":2002.84,"v":120},{"t":2002.86,"v":170},{"t":2002.87,"v":85},{"t":2002.89,"v":145},{"t":2002.90,"v":130},{"t":2002.92,"v":160},{"t":2002.93,"v":100},{"t":2002.95,"v":180},{"t":2002.96,"v":65},{"t":2002.98,"v":140},{"t":2002.99,"v":200},{"t":2003.01,"v":110},{"t":2003.02,"v":25},{"t":2003.04,"v":150},{"t":2003.05,"v":80},{"t":2003.07,"v":170},{"t":2003.08,"v":120},{"t":2003.10,"v":55},{"t":2003.11,"v":145},{"t":2003.13,"v":95},{"t":2003.14,"v":160},{"t":2003.16,"v":40},{"t":2003.17,"v":135},{"t":2003.19,"v":175},{"t":2003.20,"v":105},{"t":2003.22,"v":150},{"t":2003.23,"v":190},{"t":2003.25,"v":125},{"t":2003.26,"v":60},{"t":2003.28,"v":140},{"t":2003.29,"v":90},{"t":2003.31,"v":160},{"t":2003.32,"v":115},{"t":2003.34,"v":135},{"t":2003.35,"v":70},{"t":2003.37,"v":150},{"t":2003.38,"v":100},{"t":2003.40,"v":130},{"t":2003.41,"v":55},{"t":2003.43,"v":145},{"t":2003.44,"v":115},{"t":2003.46,"v":165},{"t":2003.47,"v":90},{"t":2003.49,"v":140},{"t":2003.50,"v":175},{"t":2003.52,"v":125},{"t":2003.53,"v":155},{"t":2003.55,"v":180},{"t":2003.56,"v":110},{"t":2003.58,"v":160},{"t":2003.59,"v":140},{"t":2003.61,"v":185},{"t":2003.62,"v":130},{"t":2003.64,"v":35},{"t":2003.65,"v":170},{"t":2003.67,"v":150},{"t":2003.68,"v":190},{"t":2003.70,"v":120},{"t":2003.71,"v":165},{"t":2003.73,"v":200},{"t":2003.74,"v":140},{"t":2003.76,"v":45},{"t":2003.77,"v":175},{"t":2003.79,"v":130},{"t":2003.80,"v":160},{"t":2003.82,"v":110},{"t":2003.83,"v":185},{"t":2003.85,"v":150},{"t":2003.86,"v":95},{"t":2003.88,"v":170},{"t":2003.89,"v":135},{"t":2003.91,"v":160},{"t":2003.92,"v":120},{"t":2003.94,"v":180},{"t":2003.95,"v":50},{"t":2003.97,"v":145},{"t":2003.98,"v":165},{"t":2004.00,"v":105},{"t":2004.01,"v":35},{"t":2004.03,"v":175},{"t":2004.04,"v":140},{"t":2004.06,"v":195},{"t":2004.07,"v":120},{"t":2004.09,"v":160},{"t":2004.10,"v":80},{"t":2004.12,"v":210},{"t":2004.13,"v":150},{"t":2004.15,"v":45},{"t":2004.16,"v":185},{"t":2004.18,"v":130},{"t":2004.19,"v":220},{"t":2004.21,"v":165},{"t":2004.22,"v":90},{"t":2004.24,"v":200},{"t":2004.25,"v":140},{"t":2004.27,"v":225},{"t":2004.28,"v":175},{"t":2004.30,"v":110},{"t":2004.58,"v":115},{"t":2004.59,"v":150},{"t":2004.61,"v":175},{"t":2004.62,"v":130},{"t":2004.64,"v":165},{"t":2004.65,"v":185},{"t":2004.67,"v":140},{"t":2004.68,"v":160},{"t":2004.70,"v":75},{"t":2004.71,"v":175},{"t":2004.73,"v":150},{"t":2004.74,"v":190},{"t":2004.76,"v":125},{"t":2004.77,"v":165},{"t":2004.79,"v":205},{"t":2004.80,"v":140},{"t":2004.82,"v":60},{"t":2004.83,"v":175},{"t":2004.85,"v":150},{"t":2004.86,"v":120},{"t":2004.88,"v":160},{"t":2004.89,"v":100},{"t":2004.91,"v":145},{"t":2004.92,"v":30},{"t":2004.94,"v":170},{"t":2004.95,"v":130},{"t":2004.97,"v":90},{"t":2004.98,"v":155},{"t":2005.00,"v":115},{"t":2005.01,"v":45},{"t":2005.03,"v":165},{"t":2005.04,"v":135},{"t":2005.06,"v":100},{"t":2005.07,"v":150},{"t":2005.09,"v":120},{"t":2005.10,"v":170},{"t":2005.12,"v":85},{"t":2005.13,"v":140},{"t":2005.15,"v":110},{"t":2005.16,"v":155},{"t":2005.18,"v":95},{"t":2005.19,"v":130},{"t":2005.21,"v":75},{"t":2005.22,"v":145},{"t":2005.24,"v":200},{"t":2005.25,"v":115},{"t":2005.27,"v":160},{"t":2005.28,"v":55},{"t":2005.30,"v":135},{"t":2005.31,"v":100},{"t":2005.33,"v":150},{"t":2005.34,"v":80},{"t":2005.36,"v":125},{"t":2005.37,"v":145},{"t":2005.39,"v":105},{"t":2005.40,"v":130},{"t":2005.42,"v":160},{"t":2005.43,"v":90},{"t":2005.45,"v":140},{"t":2005.46,"v":120},{"t":2005.48,"v":155},{"t":2005.49,"v":100},{"t":2005.51,"v":145},{"t":2005.52,"v":130},{"t":2005.54,"v":160},{"t":2005.55,"v":70},{"t":2005.57,"v":140},{"t":2005.58,"v":115},{"t":2005.60,"v":150},{"t":2005.61,"v":135},{"t":2005.63,"v":165},{"t":2005.64,"v":105},{"t":2005.66,"v":145},{"t":2005.67,"v":130},{"t":2005.69,"v":160},{"t":2005.70,"v":120},{"t":2005.72,"v":175},{"t":2005.73,"v":90},{"t":2005.75,"v":150},{"t":2005.76,"v":185},{"t":2005.78,"v":130},{"t":2005.79,"v":160},{"t":2005.81,"v":55},{"t":2005.82,"v":145},{"t":2005.84,"v":115},{"t":2005.85,"v":170},{"t":2005.87,"v":95},{"t":2005.88,"v":150},{"t":2005.90,"v":125},{"t":2005.91,"v":165},{"t":2005.93,"v":70},{"t":2005.94,"v":140},{"t":2005.96,"v":105},{"t":2005.97,"v":160},{"t":2005.99,"v":120},{"t":2006.00,"v":40}],
"dM": [{"t":2000.5,"v":122.6,"g":1},{"t":2000.59,"v":151.9,"g":1},{"t":2000.67,"v":142.6,"g":1},{"t":2000.75,"v":144.7,"g":1},{"t":2000.84,"v":129.1,"g":1},{"t":2000.92,"v":111.7,"g":1},{"t":2001.0,"v":95.2,"g":1},{"t":2001.09,"v":106.9,"g":1},{"t":2001.17,"v":115.6,"g":1},{"t":2001.25,"v":112.4,"g":1},{"t":2001.33,"v":121.8,"g":1},{"t":2001.41,"v":106.9,"g":1},{"t":2001.49,"v":142.6,"g":1},{"t":2001.57,"v":158.2,"g":1},{"t":2001.66,"v":158.2,"g":1},{"t":2001.74,"v":141.2,"g":1},{"t":2001.83,"v":127.7,"g":1},{"t":2001.92,"v":122.9,"g":1},{"t":2002.01,"v":120.4,"g":1},{"t":2002.33,"v":120.8,"g":2},{"t":2002.41,"v":135.7,"g":2},{"t":2002.5,"v":146.1,"g":2},{"t":2002.58,"v":162.1,"g":2},{"t":2002.66,"v":160.4,"g":2},{"t":2002.75,"v":162.5,"g":2},{"t":2003.08,"v":99.3,"g":3},{"t":2003.16,"v":110.2,"g":3},{"t":2003.25,"v":121.1,"g":3},{"t":2003.33,"v":112.1,"g":3},{"t":2003.41,"v":120,"g":3},{"t":2003.49,"v":138.6,"g":3},{"t":2003.58,"v":149.9,"g":3},{"t":2003.67,"v":145.8,"g":3},{"t":2003.75,"v":133.5,"g":3},{"t":2003.83,"v":119.7,"g":3},{"t":2003.91,"v":115,"g":3},{"t":2004.0,"v":113.1,"g":3},{"t":2004.09,"v":109.2,"g":3},{"t":2004.18,"v":103.4,"g":3}],
"dD": [{"t":2000.50,"v":125},{"t":2000.51,"v":95},{"t":2000.52,"v":15},{"t":2000.53,"v":140},{"t":2000.54,"v":55},{"t":2000.55,"v":160},{"t":2000.56,"v":75},{"t":2000.57,"v":130},{"t":2000.58,"v":170},{"t":2000.59,"v":110},{"t":2000.60,"v":180},{"t":2000.61,"v":145},{"t":2000.62,"v":165},{"t":2000.63,"v":95},{"t":2000.64,"v":175},{"t":2000.65,"v":135},{"t":2000.66,"v":185},{"t":2000.67,"v":150},{"t":2000.68,"v":120},{"t":2000.69,"v":170},{"t":2000.70,"v":100},{"t":2000.71,"v":160},{"t":2000.72,"v":140},{"t":2000.73,"v":180},{"t":2000.74,"v":125},{"t":2000.75,"v":155},{"t":2000.76,"v":170},{"t":2000.77,"v":80},{"t":2000.78,"v":145},{"t":2000.79,"v":175},{"t":2000.80,"v":110},{"t":2000.81,"v":160},{"t":2000.82,"v":75},{"t":2000.84,"v":140},{"t":2000.85,"v":170},{"t":2000.86,"v":125},{"t":2000.88,"v":155},{"t":2000.89,"v":75},{"t":2000.90,"v":140},{"t":2000.92,"v":115},{"t":2000.93,"v":160},{"t":2000.94,"v":100},{"t":2000.96,"v":130},{"t":2000.97,"v":35},{"t":2000.98,"v":150},{"t":2001.00,"v":110},{"t":2001.01,"v":90},{"t":2001.03,"v":140},{"t":2001.04,"v":120},{"t":2001.06,"v":75},{"t":2001.07,"v":135},{"t":2001.09,"v":100},{"t":2001.10,"v":145},{"t":2001.12,"v":60},{"t":2001.13,"v":115},{"t":2001.15,"v":130},{"t":2001.16,"v":45},{"t":2001.18,"v":95},{"t":2001.19,"v":140},{"t":2001.21,"v":80},{"t":2001.22,"v":28},{"t":2001.24,"v":120},{"t":2001.25,"v":100},{"t":2001.27,"v":150},{"t":2001.28,"v":65},{"t":2001.30,"v":130},{"t":2001.31,"v":90},{"t":2001.33,"v":160},{"t":2001.34,"v":110},{"t":2001.36,"v":50},{"t":2001.37,"v":140},{"t":2001.39,"v":95},{"t":2001.40,"v":125},{"t":2001.42,"v":35},{"t":2001.43,"v":150},{"t":2001.45,"v":105},{"t":2001.46,"v":165},{"t":2001.48,"v":80},{"t":2001.49,"v":130},{"t":2001.51,"v":170},{"t":2001.52,"v":115},{"t":2001.54,"v":25},{"t":2001.55,"v":145},{"t":2001.57,"v":95},{"t":2001.58,"v":160},{"t":2001.60,"v":130},{"t":2001.61,"v":40},{"t":2001.63,"v":150},{"t":2001.64,"v":110},{"t":2001.66,"v":135},{"t":2001.67,"v":80},{"t":2001.69,"v":155},{"t":2001.70,"v":30},{"t":2001.72,"v":125},{"t":2001.73,"v":145},{"t":2001.75,"v":100},{"t":2001.76,"v":55},{"t":2001.78,"v":140},{"t":2001.79,"v":120},{"t":2001.81,"v":165},{"t":2001.82,"v":95},{"t":2001.84,"v":150},{"t":2001.85,"v":175},{"t":2001.87,"v":130},{"t":2001.88,"v":190},{"t":2001.90,"v":145},{"t":2001.91,"v":120},{"t":2001.93,"v":170},{"t":2001.94,"v":205},{"t":2001.96,"v":135},{"t":2001.97,"v":160},{"t":2001.99,"v":75},{"t":2002.00,"v":150},{"t":2002.02,"v":180},{"t":2002.03,"v":165},{"t":2002.05,"v":195},{"t":2002.06,"v":155},{"t":2002.08,"v":175},{"t":2002.09,"v":140},{"t":2002.11,"v":185},{"t":2002.12,"v":160},{"t":2002.14,"v":130},{"t":2002.15,"v":170},{"t":2002.17,"v":145},{"t":2002.18,"v":100},{"t":2002.20,"v":160},{"t":2002.21,"v":125},{"t":2002.23,"v":140},{"t":2002.24,"v":95},{"t":2002.26,"v":150},{"t":2002.27,"v":115},{"t":2002.29,"v":135},{"t":2002.30,"v":85},{"t":2002.32,"v":125},{"t":2002.33,"v":145},{"t":2002.35,"v":105},{"t":2002.36,"v":130},{"t":2002.38,"v":155},{"t":2002.39,"v":100},{"t":2002.41,"v":140},{"t":2002.42,"v":120},{"t":2002.44,"v":160},{"t":2002.45,"v":95},{"t":2002.47,"v":135},{"t":2002.48,"v":150},{"t":2002.50,"v":110},{"t":2002.51,"v":165},{"t":2002.53,"v":130},{"t":2002.54,"v":60},{"t":2002.56,"v":150},{"t":2002.57,"v":185},{"t":2002.59,"v":120},{"t":2002.60,"v":50},{"t":2002.62,"v":165},{"t":2002.63,"v":140},{"t":2002.65,"v":80},{"t":2002.66,"v":175},{"t":2002.68,"v":110},{"t":2002.69,"v":150},{"t":2002.71,"v":70},{"t":2002.72,"v":135},{"t":2002.74,"v":165},{"t":2002.75,"v":100},{"t":2002.77,"v":145},{"t":2002.78,"v":175},{"t":2002.80,"v":120},{"t":2002.81,"v":155},{"t":2002.83,"v":95},{"t":2002.84,"v":170},{"t":2002.86,"v":135},{"t":2002.87,"v":160},{"t":2002.89,"v":110},{"t":2002.90,"v":150},{"t":2002.92,"v":175},{"t":2002.93,"v":70},{"t":2002.95,"v":140},{"t":2002.96,"v":165},{"t":2002.98,"v":120},{"t":2002.99,"v":155},{"t":2003.01,"v":100},{"t":2003.02,"v":145},{"t":2003.04,"v":170},{"t":2003.05,"v":130},{"t":2003.07,"v":155},{"t":2003.08,"v":85},{"t":2003.10,"v":140},{"t":2003.11,"v":165},{"t":2003.13,"v":120},{"t":2003.14,"v":150},{"t":2003.16,"v":175},{"t":2003.17,"v":135},{"t":2003.19,"v":105},{"t":2003.20,"v":160},{"t":2003.22,"v":140},{"t":2003.23,"v":180},{"t":2003.25,"v":120},{"t":2003.26,"v":150},{"t":2003.28,"v":95},{"t":2003.29,"v":165},{"t":2003.31,"v":135},{"t":2003.32,"v":155},{"t":2003.34,"v":110},{"t":2003.35,"v":175},{"t":2003.37,"v":140},{"t":2003.38,"v":120},{"t":2003.40,"v":160},{"t":2003.41,"v":50},{"t":2003.43,"v":135},{"t":2003.44,"v":150},{"t":2003.46,"v":100},{"t":2003.47,"v":140},{"t":2003.49,"v":55},{"t":2003.50,"v":120},{"t":2003.52,"v":95},{"t":2003.53,"v":130},{"t":2003.55,"v":105},{"t":2003.56,"v":30},{"t":2003.58,"v":125},{"t":2003.59,"v":90},{"t":2003.61,"v":115},{"t":2003.62,"v":140},{"t":2003.64,"v":100},{"t":2003.65,"v":80},{"t":2003.67,"v":130},{"t":2003.68,"v":110},{"t":2003.70,"v":150},{"t":2003.71,"v":95},{"t":2003.73,"v":160},{"t":2003.74,"v":125},{"t":2003.76,"v":70},{"t":2003.77,"v":145},{"t":2003.79,"v":170},{"t":2003.80,"v":110},{"t":2003.82,"v":15},{"t":2003.83,"v":135},{"t":2003.85,"v":160},{"t":2003.86,"v":100},{"t":2003.88,"v":150},{"t":2003.89,"v":75},{"t":2003.91,"v":165},{"t":2003.92,"v":125},{"t":2003.94,"v":30},{"t":2003.95,"v":145},{"t":2003.97,"v":175},{"t":2003.98,"v":110},{"t":2004.00,"v":155},{"t":2004.01,"v":200},{"t":2004.03,"v":130},{"t":2004.04,"v":65},{"t":2004.06,"v":165},{"t":2004.07,"v":140},{"t":2004.09,"v":185},{"t":2004.10,"v":115},{"t":2004.12,"v":150},{"t":2004.13,"v":170},{"t":2004.15,"v":100},{"t":2004.16,"v":55},{"t":2004.18,"v":145},{"t":2004.19,"v":180},{"t":2004.20,"v":65},{"t":2004.21,"v":125}],
"eM": [{"t":2002.17,"v":112.1,"g":1},{"t":2002.25,"v":120.7,"g":1},{"t":2002.33,"v":119.3,"g":1},{"t":2002.43,"v":127.9,"g":1},{"t":2002.51,"v":135.4,"g":1},{"t":2002.59,"v":150.7,"g":1},{"t":2002.67,"v":164.3,"g":1},{"t":2002.76,"v":163.1,"g":1},{"t":2002.84,"v":112.6,"g":1},{"t":2002.92,"v":117.4,"g":1},{"t":2003.01,"v":129.7,"g":1},{"t":2003.1,"v":107.4,"g":1},{"t":2003.18,"v":119.3,"g":1},{"t":2003.26,"v":127.1,"g":1},{"t":2003.34,"v":124.6,"g":1},{"t":2003.43,"v":120.7,"g":1},{"t":2003.51,"v":123.1,"g":1},{"t":2003.59,"v":131.1,"g":1},{"t":2003.68,"v":146.9,"g":1},{"t":2003.76,"v":137.1,"g":1},{"t":2003.84,"v":126.7,"g":1},{"t":2003.92,"v":130,"g":1},{"t":2004.01,"v":116.9,"g":1},{"t":2004.1,"v":111.4,"g":1},{"t":2004.17,"v":119.7,"g":1},{"t":2004.26,"v":111.1,"g":1},{"t":2004.35,"v":116,"g":1},{"t":2004.43,"v":123.6,"g":1},{"t":2004.51,"v":133.6,"g":1},{"t":2004.59,"v":146.9,"g":1},{"t":2004.68,"v":145,"g":1},{"t":2004.76,"v":136,"g":1},{"t":2004.84,"v":122.9,"g":1},{"t":2004.92,"v":91.4,"g":1},{"t":2005.42,"v":126.9,"g":2},{"t":2005.5,"v":135,"g":2},{"t":2005.59,"v":154.3,"g":2},{"t":2005.68,"v":154.3,"g":2},{"t":2005.76,"v":158.3,"g":2},{"t":2005.85,"v":138.6,"g":2},{"t":2005.93,"v":92.9,"g":2},{"t":2006.02,"v":86.8,"g":2}],
"eD": [{"t":2002.00,"v":120},{"t":2002.01,"v":35},{"t":2002.02,"v":105},{"t":2002.03,"v":140},{"t":2002.04,"v":95},{"t":2002.05,"v":160},{"t":2002.06,"v":115},{"t":2002.07,"v":80},{"t":2002.08,"v":180},{"t":2002.09,"v":130},{"t":2002.10,"v":60},{"t":2002.11,"v":150},{"t":2002.12,"v":100},{"t":2002.13,"v":170},{"t":2002.14,"v":125},{"t":2002.15,"v":75},{"t":2002.16,"v":155},{"t":2002.17,"v":35},{"t":2002.18,"v":140},{"t":2002.19,"v":110},{"t":2002.20,"v":175},{"t":2002.21,"v":90},{"t":2002.22,"v":145},{"t":2002.23,"v":50},{"t":2002.24,"v":130},{"t":2002.25,"v":160},{"t":2002.26,"v":105},{"t":2002.27,"v":40},{"t":2002.28,"v":150},{"t":2002.29,"v":120},{"t":2002.30,"v":170},{"t":2002.31,"v":95},{"t":2002.32,"v":140},{"t":2002.33,"v":60},{"t":2002.34,"v":155},{"t":2002.35,"v":115},{"t":2002.36,"v":175},{"t":2002.37,"v":130},{"t":2002.38,"v":85},{"t":2002.39,"v":160},{"t":2002.40,"v":120},{"t":2002.41,"v":180},{"t":2002.42,"v":140},{"t":2002.43,"v":50},{"t":2002.44,"v":165},{"t":2002.45,"v":125},{"t":2002.46,"v":150},{"t":2002.47,"v":100},{"t":2002.48,"v":175},{"t":2002.49,"v":135},{"t":2002.50,"v":160},{"t":2002.51,"v":115},{"t":2002.52,"v":185},{"t":2002.53,"v":145},{"t":2002.54,"v":170},{"t":2002.55,"v":125},{"t":2002.56,"v":190},{"t":2002.57,"v":155},{"t":2002.58,"v":175},{"t":2002.59,"v":135},{"t":2002.60,"v":195},{"t":2002.61,"v":160},{"t":2002.62,"v":180},{"t":2002.63,"v":140},{"t":2002.64,"v":200},{"t":2002.65,"v":170},{"t":2002.66,"v":190},{"t":2002.67,"v":150},{"t":2002.68,"v":210},{"t":2002.69,"v":175},{"t":2002.70,"v":195},{"t":2002.71,"v":160},{"t":2002.72,"v":205},{"t":2002.73,"v":180},{"t":2002.74,"v":150},{"t":2002.75,"v":200},{"t":2002.76,"v":170},{"t":2002.77,"v":190},{"t":2002.78,"v":140},{"t":2002.79,"v":195},{"t":2002.80,"v":160},{"t":2002.81,"v":120},{"t":2002.82,"v":180},{"t":2002.83,"v":30},{"t":2002.84,"v":150},{"t":2002.85,"v":100},{"t":2002.86,"v":165},{"t":2002.87,"v":80},{"t":2002.88,"v":140},{"t":2002.89,"v":115},{"t":2002.90,"v":160},{"t":2002.91,"v":70},{"t":2002.92,"v":130},{"t":2002.93,"v":45},{"t":2002.94,"v":155},{"t":2002.95,"v":100},{"t":2002.96,"v":175},{"t":2002.97,"v":120},{"t":2002.98,"v":140},{"t":2002.99,"v":85},{"t":2003.00,"v":165},{"t":2003.01,"v":180},{"t":2003.03,"v":110},{"t":2003.04,"v":150},{"t":2003.06,"v":65},{"t":2003.07,"v":175},{"t":2003.09,"v":130},{"t":2003.10,"v":25},{"t":2003.12,"v":155},{"t":2003.13,"v":95},{"t":2003.15,"v":170},{"t":2003.16,"v":120},{"t":2003.18,"v":145},{"t":2003.19,"v":60},{"t":2003.21,"v":180},{"t":2003.22,"v":135},{"t":2003.24,"v":100},{"t":2003.25,"v":160},{"t":2003.27,"v":45},{"t":2003.28,"v":140},{"t":2003.30,"v":175},{"t":2003.31,"v":115},{"t":2003.33,"v":150},{"t":2003.34,"v":80},{"t":2003.36,"v":165},{"t":2003.37,"v":130},{"t":2003.39,"v":55},{"t":2003.40,"v":145},{"t":2003.42,"v":170},{"t":2003.43,"v":105},{"t":2003.45,"v":155},{"t":2003.46,"v":125},{"t":2003.48,"v":175},{"t":2003.49,"v":90},{"t":2003.51,"v":150},{"t":2003.52,"v":30},{"t":2003.54,"v":165},{"t":2003.55,"v":135},{"t":2003.57,"v":180},{"t":2003.58,"v":110},{"t":2003.60,"v":155},{"t":2003.61,"v":40},{"t":2003.63,"v":170},{"t":2003.64,"v":140},{"t":2003.66,"v":95},{"t":2003.67,"v":160},{"t":2003.69,"v":180},{"t":2003.70,"v":125},{"t":2003.72,"v":150},{"t":2003.73,"v":20},{"t":2003.75,"v":165},{"t":2003.76,"v":105},{"t":2003.78,"v":140},{"t":2003.79,"v":175},{"t":2003.81,"v":120},{"t":2003.82,"v":155},{"t":2003.84,"v":85},{"t":2003.85,"v":150},{"t":2003.87,"v":110},{"t":2003.88,"v":130},{"t":2003.90,"v":165},{"t":2003.91,"v":95},{"t":2003.93,"v":145},{"t":2003.94,"v":120},{"t":2003.96,"v":75},{"t":2003.97,"v":160},{"t":2003.99,"v":135},{"t":2004.00,"v":100},{"t":2004.02,"v":185},{"t":2004.03,"v":55},{"t":2004.05,"v":150},{"t":2004.06,"v":120},{"t":2004.08,"v":170},{"t":2004.09,"v":40},{"t":2004.11,"v":140},{"t":2004.12,"v":195},{"t":2004.14,"v":95},{"t":2004.15,"v":160},{"t":2004.17,"v":130},{"t":2004.18,"v":45},{"t":2004.20,"v":170},{"t":2004.21,"v":115},{"t":2004.23,"v":150},{"t":2004.24,"v":85},{"t":2004.26,"v":165},{"t":2004.27,"v":135},{"t":2004.29,"v":55},{"t":2004.30,"v":175},{"t":2004.32,"v":120},{"t":2004.33,"v":145},{"t":2004.35,"v":95},{"t":2004.36,"v":160},{"t":2004.38,"v":30},{"t":2004.39,"v":130},{"t":2004.41,"v":170},{"t":2004.42,"v":110},{"t":2004.44,"v":150},{"t":2004.45,"v":130},{"t":2004.47,"v":175},{"t":2004.48,"v":140},{"t":2004.50,"v":160},{"t":2004.51,"v":120},{"t":2004.53,"v":180},{"t":2004.54,"v":150},{"t":2004.56,"v":165},{"t":2004.57,"v":70},{"t":2004.59,"v":185},{"t":2004.60,"v":140},{"t":2004.62,"v":175},{"t":2004.63,"v":155},{"t":2004.65,"v":185},{"t":2004.66,"v":130},{"t":2004.68,"v":170},{"t":2004.69,"v":150},{"t":2004.71,"v":180},{"t":2004.72,"v":75},{"t":2004.74,"v":160},{"t":2004.75,"v":140},{"t":2004.77,"v":175},{"t":2004.78,"v":120},{"t":2004.80,"v":165},{"t":2004.81,"v":60},{"t":2004.83,"v":150},{"t":2004.84,"v":180},{"t":2004.86,"v":110},{"t":2004.87,"v":145},{"t":2004.89,"v":90},{"t":2004.90,"v":160},{"t":2004.92,"v":125},{"t":2004.93,"v":70},{"t":2004.95,"v":150},{"t":2004.96,"v":100},{"t":2004.98,"v":185},{"t":2004.99,"v":15},{"t":2005.01,"v":130},{"t":2005.02,"v":45},{"t":2005.04,"v":160},{"t":2005.05,"v":95},{"t":2005.07,"v":140},{"t":2005.08,"v":115},{"t":2005.10,"v":155},{"t":2005.11,"v":55},{"t":2005.13,"v":125},{"t":2005.14,"v":80},{"t":2005.16,"v":150},{"t":2005.17,"v":100},{"t":2005.19,"v":135},{"t":2005.20,"v":40},{"t":2005.22,"v":120},{"t":2005.23,"v":145},{"t":2005.25,"v":95},{"t":2005.26,"v":70},{"t":2005.28,"v":140},{"t":2005.29,"v":115},{"t":2005.31,"v":155},{"t":2005.32,"v":90},{"t":2005.34,"v":130},{"t":2005.35,"v":105},{"t":2005.37,"v":150},{"t":2005.38,"v":75},{"t":2005.40,"v":140},{"t":2005.41,"v":120},{"t":2005.43,"v":160},{"t":2005.44,"v":95},{"t":2005.46,"v":135},{"t":2005.47,"v":150},{"t":2005.49,"v":110},{"t":2005.50,"v":165},{"t":2005.52,"v":130},{"t":2005.53,"v":70},{"t":2005.55,"v":155},{"t":2005.56,"v":140},{"t":2005.58,"v":175},{"t":2005.59,"v":120},{"t":2005.61,"v":165},{"t":2005.62,"v":185},{"t":2005.64,"v":145},{"t":2005.65,"v":175},{"t":2005.67,"v":160},{"t":2005.68,"v":190},{"t":2005.70,"v":140},{"t":2005.71,"v":180},{"t":2005.73,"v":165},{"t":2005.74,"v":190},{"t":2005.76,"v":150},{"t":2005.77,"v":185},{"t":2005.79,"v":130},{"t":2005.80,"v":175},{"t":2005.82,"v":30},{"t":2005.83,"v":160},{"t":2005.85,"v":190},{"t":2005.86,"v":135},{"t":2005.88,"v":170},{"t":2005.89,"v":105},{"t":2005.91,"v":150},{"t":2005.92,"v":80},{"t":2005.94,"v":140},{"t":2005.95,"v":55},{"t":2005.97,"v":120},{"t":2005.98,"v":40},{"t":2006.00,"v":100},{"t":2006.01,"v":25},{"t":2006.02,"v":70},{"t":2006.03,"v":130},{"t":2006.04,"v":45},{"t":2006.05,"v":90}],
"shAC": [{"t0":2002.25,"t1":2002.54,"k":"Arroz"},{"t0":2002.55,"t1":2002.88,"k":"Regeneração"},{"t0":2003.1,"t1":2003.36,"k":"Arroz"},{"t0":2003.74,"t1":2004.04,"k":"Regeneração"},{"t0":2004.06,"t1":2004.31,"k":"Arroz"},{"t0":2004.74,"t1":2005.4,"k":"Regeneração"}],
"shBD": [{"t0":2001.78,"t1":2002.02,"k":"Período da exploração"}]
},
"concat": [
 {"width": 442, "height": 326,
  "title": {"text": "Campo Agrícola (km77)", "anchor": "middle", "frame": "group", "dx": 16, "offset": 34, "baseline": "alphabetic"},
  "layer": [
   {"data": {"name": "aS"}, "mark": {"type": "point", "filled": false, "size": 110, "strokeWidth": 1, "opacity": 1},
    "encoding": {
     "x": {"field": "t", "type": "quantitative", "scale": {"domain": [2000.77, 2006.2], "nice": false, "zero": false}, "axis": {"title": null, "values": [2001,2001.5,2002,2002.5,2003,2003.5,2004,2004.5,2005,2005.5,2006], "labelExpr": "datum.value % 1 == 0 ? '' + datum.value : ''", "tickSize": {"condition": {"test": "datum.value % 1 == 0", "value": 7}, "value": 4}}},
     "y": {"field": "v", "type": "quantitative", "scale": {"domain": [-125, 275], "nice": false, "zero": false}, "axis": {"title": "W.m⁻²", "titlePadding": 10, "values": [-100,-75,-50,-25,0,25,50,75,100,125,150,175,200,225,250], "labelExpr": "datum.value % 50 == 0 ? '' + datum.value : ''", "tickSize": {"condition": {"test": "datum.value % 50 == 0", "value": 7}, "value": 4}}},
     "stroke": {"datum": "S*\u2800", "type": "nominal", "scale": {"domain": ["S*\u2800", "L*", "Suavização\u00a0\u2800\u2800"], "range": ["#0000ff", "#008b8b", "#000000"]},
       "legend": {"title": "\u00a0", "titleOrient": "left", "titleFontSize": 10, "titlePadding": 17, "orient": "none", "legendX": 41, "legendY": -35, "direction": "horizontal", "columns": 3, "strokeColor": "black", "fillColor": "white", "padding": 5, "symbolSize": 144, "symbolStrokeWidth": 1.3, "labelOffset": 23, "columnPadding": 28, "labelFontSize": 18, "encode": {"symbols": {"update": {"strokeWidth": {"signal": "indexof(datum.value, 'Suav') >= 0 ? 3 : 1.3"}}}}}},
     "shape": {"datum": "S*\u2800", "type": "nominal", "scale": {"domain": ["S*\u2800", "L*", "Suavização\u00a0\u2800\u2800"], "range": ["circle", "triangle-up", "M-4.3,0H2"]},
       "legend": {"title": "\u00a0", "titleOrient": "left", "titleFontSize": 10, "titlePadding": 17, "orient": "none", "legendX": 41, "legendY": -35, "direction": "horizontal", "columns": 3, "strokeColor": "black", "fillColor": "white", "padding": 5, "symbolSize": 144, "symbolStrokeWidth": 1.3, "labelOffset": 23, "columnPadding": 28, "labelFontSize": 18, "encode": {"symbols": {"update": {"strokeWidth": {"signal": "indexof(datum.value, 'Suav') >= 0 ? 3 : 1.3"}}}}}}
    }},
   {"data": {"name": "aL"}, "mark": {"type": "point", "filled": false, "size": 110, "strokeWidth": 1, "opacity": 1},
    "encoding": {"x": {"field": "t", "type": "quantitative"}, "y": {"field": "v", "type": "quantitative"}, "stroke": {"datum": "L*", "type": "nominal"}, "shape": {"datum": "L*", "type": "nominal"}}},
   {"data": {"name": "aSs"}, "mark": {"type": "line", "strokeWidth": 2.5, "interpolate": "monotone"},
    "encoding": {"x": {"field": "t", "type": "quantitative"}, "y": {"field": "v", "type": "quantitative"}, "stroke": {"datum": "Suavização\u00a0\u2800\u2800", "type": "nominal"}}},
   {"data": {"name": "aLs"}, "mark": {"type": "line", "strokeWidth": 2.5, "interpolate": "monotone"},
    "encoding": {"x": {"field": "t", "type": "quantitative"}, "y": {"field": "v", "type": "quantitative"}, "stroke": {"datum": "Suavização\u00a0\u2800\u2800", "type": "nominal"}}},
   {"data": {"name": "shAC"}, "mark": {"type": "rect", "cornerRadius": 5, "stroke": "#7f7f7f", "strokeWidth": 1.5},
    "encoding": {"x": {"field": "t0", "type": "quantitative"}, "x2": {"field": "t1"}, "y": {"datum": 268, "type": "quantitative"}, "y2": {"datum": -125},
     "fill": {"field": "k", "type": "nominal", "scale": {"domain": ["Arroz", "Regeneração"], "range": ["rgba(134,201,94,0.7)", "rgba(165,165,165,0.5)"]}, "legend": null}}},
   {"data": {"values": [{}]}, "mark": {"type": "text", "text": "(a)", "font": "Liberation Serif", "fontSize": 30, "align": "center", "baseline": "middle"},
    "encoding": {"x": {"datum": 2001.26, "type": "quantitative"}, "y": {"datum": 250, "type": "quantitative"}}}
  ]},
 {"width": 447, "height": 328,
  "title": {"text": "Floresta Manejada (km83)", "anchor": "middle", "frame": "group", "dx": -30, "offset": 34, "baseline": "alphabetic"},
  "layer": [
   {"data": {"name": "bS"}, "mark": {"type": "point", "filled": false, "size": 110, "strokeWidth": 1, "opacity": 1},
    "encoding": {
     "x": {"field": "t", "type": "quantitative", "scale": {"domain": [2000, 2004.5], "nice": false, "zero": false}, "axis": {"title": null, "values": [2000,2000.5,2001,2001.5,2002,2002.5,2003,2003.5,2004,2004.5], "labelExpr": "datum.value % 1 == 0 ? '' + datum.value : ''", "tickSize": {"condition": {"test": "datum.value % 1 == 0", "value": 7}, "value": 4}}},
     "y": {"field": "v", "type": "quantitative", "scale": {"domain": [-125, 275], "nice": false, "zero": false}, "axis": {"title": "W.m⁻²", "titlePadding": 10, "values": [-100,-75,-50,-25,0,25,50,75,100,125,150,175,200,225,250], "labelExpr": "datum.value % 50 == 0 ? '' + datum.value : ''", "tickSize": {"condition": {"test": "datum.value % 50 == 0", "value": 7}, "value": 4}}},
     "stroke": {"datum": "S*\u2800", "type": "nominal", "scale": {"domain": ["S*\u2800", "L*", "Suavização\u00a0\u00a0\u2800\u2800"], "range": ["#0000ff", "#008b8b", "#000000"]},
       "legend": {"title": "\u00a0", "titleOrient": "left", "titleFontSize": 10, "titlePadding": 17, "orient": "none", "legendX": 26, "legendY": -35, "direction": "horizontal", "columns": 3, "strokeColor": "black", "fillColor": "white", "padding": 5, "symbolSize": 144, "symbolStrokeWidth": 1.3, "labelOffset": 23, "columnPadding": 34, "labelFontSize": 18, "encode": {"symbols": {"update": {"strokeWidth": {"signal": "indexof(datum.value, 'Suav') >= 0 ? 3 : 1.3"}}}}}},
     "shape": {"datum": "S*\u2800", "type": "nominal", "scale": {"domain": ["S*\u2800", "L*", "Suavização\u00a0\u00a0\u2800\u2800"], "range": ["circle", "triangle-up", "M-4,0H2.3"]},
       "legend": {"title": "\u00a0", "titleOrient": "left", "titleFontSize": 10, "titlePadding": 17, "orient": "none", "legendX": 26, "legendY": -35, "direction": "horizontal", "columns": 3, "strokeColor": "black", "fillColor": "white", "padding": 5, "symbolSize": 144, "symbolStrokeWidth": 1.3, "labelOffset": 23, "columnPadding": 34, "labelFontSize": 18, "encode": {"symbols": {"update": {"strokeWidth": {"signal": "indexof(datum.value, 'Suav') >= 0 ? 3 : 1.3"}}}}}}
    }},
   {"data": {"name": "bL"}, "mark": {"type": "point", "filled": false, "size": 110, "strokeWidth": 1, "opacity": 1},
    "encoding": {"x": {"field": "t", "type": "quantitative"}, "y": {"field": "v", "type": "quantitative"}, "stroke": {"datum": "L*", "type": "nominal"}, "shape": {"datum": "L*", "type": "nominal"}}},
   {"data": {"name": "bSs"}, "mark": {"type": "line", "strokeWidth": 2.5, "interpolate": "monotone"},
    "encoding": {"x": {"field": "t", "type": "quantitative"}, "y": {"field": "v", "type": "quantitative"}, "stroke": {"datum": "Suavização\u00a0\u00a0\u2800\u2800", "type": "nominal"}}},
   {"data": {"name": "bLs"}, "mark": {"type": "line", "strokeWidth": 2.5, "interpolate": "monotone"},
    "encoding": {"x": {"field": "t", "type": "quantitative"}, "y": {"field": "v", "type": "quantitative"}, "stroke": {"datum": "Suavização\u00a0\u00a0\u2800\u2800", "type": "nominal"}}},
   {"data": {"name": "shBD"}, "mark": {"type": "rect", "stroke": "#222222", "strokeWidth": 1.3, "strokeDash": [7, 3, 2, 3], "fillOpacity": 0.75},
    "encoding": {"x": {"field": "t0", "type": "quantitative"}, "x2": {"field": "t1"}, "y": {"datum": 269, "type": "quantitative"}, "y2": {"datum": -125},
     "fill": {"field": "k", "type": "nominal", "scale": {"domain": ["Período da exploração"], "range": ["#b2cce7"]}, "legend": null}}},
   {"data": {"values": [{}]}, "mark": {"type": "text", "text": "(b)", "font": "Liberation Serif", "fontSize": 30, "align": "center", "baseline": "middle"},
    "encoding": {"x": {"datum": 2000.42, "type": "quantitative"}, "y": {"datum": 235, "type": "quantitative"}}}
  ]},
 {"width": 408, "height": 20,
  "title": {"text": "Floresta Primária (km67)", "anchor": "middle", "frame": "group", "dx": 0, "offset": 69, "baseline": "alphabetic"},
  "data": {"values": []}, "mark": "point"},
 {"width": 430, "height": 314,
  "layer": [
   {"layer": [
     {"data": {"name": "cM"}, "mark": {"type": "line", "strokeWidth": 1},
      "encoding": {
       "x": {"field": "t", "type": "quantitative", "scale": {"domain": [2000.81, 2006.1], "nice": false, "zero": false}, "axis": {"title": null, "values": [2001,2001.5,2002,2002.5,2003,2003.5,2004,2004.5,2005,2005.5,2006], "labelExpr": "datum.value % 1 == 0 ? '' + datum.value : ''", "tickSize": {"condition": {"test": "datum.value % 1 == 0", "value": 7}, "value": 4}}},
       "y": {"field": "v", "type": "quantitative", "scale": {"domain": [40, 180], "nice": false, "zero": false}, "axis": {"title": "Q* mensal (W.m⁻²)", "titlePadding": 16, "values": [40,50,60,70,80,90,100,110,120,130,140,150,160,170,180], "labelExpr": "datum.value % 20 == 0 ? '' + datum.value : ''", "tickSize": {"condition": {"test": "datum.value % 20 == 0", "value": 7}, "value": 4}}},
       "detail": {"field": "g"},
       "stroke": {"datum": "Q* mensal (W.m⁻²)", "type": "nominal", "scale": {"domain": ["Q* mensal (W.m⁻²)", "Q* diário (W.m⁻²)\u2800\u2800\u2800\u2800"], "range": ["#000000", "#0000ff"]},
        "legend": {"title": "\u00a0", "titleOrient": "left", "titleFontSize": 10, "titlePadding": 68, "orient": "none", "legendX": -56, "legendY": -48, "direction": "horizontal", "columns": 2, "strokeColor": "black", "fillColor": "white", "padding": 8, "symbolSize": 196, "symbolStrokeWidth": 1.2, "labelOffset": 24, "columnPadding": 36, "labelFontSize": 19, "encode": {"labels": {"update": {"fill": {"signal": "indexof(datum.value, 'diário') >= 0 ? '#0000ff' : '#000000'"}}}}}}
      }},
     {"data": {"name": "cM"}, "mark": {"type": "point", "shape": "M-1,0H1M0,-1V1M-0.7,-0.7L0.7,0.7M-0.7,0.7L0.7,-0.7", "size": 196, "strokeWidth": 1.2, "filled": false, "opacity": 1},
      "encoding": {"x": {"field": "t", "type": "quantitative"}, "y": {"field": "v", "type": "quantitative"}, "stroke": {"datum": "Q* mensal (W.m⁻²)", "type": "nominal"}}},
     {"data": {"values": [{}]}, "mark": {"type": "text", "text": "(c)", "font": "Liberation Serif", "fontSize": 30, "align": "center", "baseline": "middle"},
      "encoding": {"x": {"datum": 2001.28, "type": "quantitative"}, "y": {"datum": 167.3, "type": "quantitative"}}}
   ]},
   {"data": {"name": "cD"}, "mark": {"type": "point", "filled": false, "size": 130, "strokeWidth": 1, "opacity": 1},
    "encoding": {
     "x": {"field": "t", "type": "quantitative", "scale": {"domain": [2000.81, 2006.1], "nice": false, "zero": false}, "axis": {"orient": "top", "title": null, "labels": false, "values": [2001,2001.5,2002,2002.5,2003,2003.5,2004,2004.5,2005,2005.5,2006], "tickSize": 4}},
     "y": {"field": "v", "type": "quantitative", "scale": {"domain": [-11.4, 500], "nice": false, "zero": false}, "axis": {"orient": "right", "title": "Q* diário (W.m⁻²)", "titlePadding": 14, "labelFontSize": 22, "titleColor": "#0000ff", "labelColor": "#0000ff", "tickColor": "#0000ff", "domainColor": "#0000ff", "values": [0,25,50,75,100,125,150,175,200,225,250,275,300,325,350,375,400,425,450,475,500], "labelExpr": "datum.value % 50 == 0 ? '' + datum.value : ''", "tickSize": {"condition": {"test": "datum.value % 50 == 0", "value": 7}, "value": 4}}},
     "stroke": {"datum": "Q* diário (W.m⁻²)\u2800\u2800\u2800\u2800", "type": "nominal"},
     "shape": {"datum": "Q* diário (W.m⁻²)\u2800\u2800\u2800\u2800", "type": "nominal", "scale": {"domain": ["Q* mensal (W.m⁻²)", "Q* diário (W.m⁻²)\u2800\u2800\u2800\u2800"], "range": ["M-3.7,0H3.4M0,-1V1M-0.7,-0.7L0.7,0.7M-0.7,0.7L0.7,-0.7", "M-0.7,0A0.7,0.7,0,1,0,0.7,0A0.7,0.7,0,1,0,-0.7,0Z"]},
      "legend": {"title": "\u00a0", "titleOrient": "left", "titleFontSize": 10, "titlePadding": 68, "orient": "none", "legendX": -56, "legendY": -48, "direction": "horizontal", "columns": 2, "strokeColor": "black", "fillColor": "white", "padding": 8, "symbolSize": 196, "symbolStrokeWidth": 1.2, "labelOffset": 24, "columnPadding": 36, "labelFontSize": 19, "encode": {"labels": {"update": {"fill": {"signal": "indexof(datum.value, 'diário') >= 0 ? '#0000ff' : '#000000'"}}}}}}
    }},
   {"data": {"name": "shAC"}, "mark": {"type": "rect", "cornerRadius": 5, "stroke": "#7f7f7f", "strokeWidth": 1.5},
    "encoding": {"x": {"field": "t0", "type": "quantitative", "scale": {"domain": [2000.81, 2006.1], "nice": false, "zero": false}, "axis": null}, "x2": {"field": "t1"},
     "y": {"datum": 180, "type": "quantitative", "scale": {"domain": [40, 180], "nice": false, "zero": false}, "axis": null}, "y2": {"datum": 40},
     "fill": {"field": "k", "type": "nominal", "scale": {"domain": ["Arroz", "Regeneração"], "range": ["rgba(134,201,94,0.7)", "rgba(165,165,165,0.5)"]},
      "legend": {"title": null, "orient": "none", "legendX": 1, "legendY": 361, "direction": "horizontal", "symbolType": "square", "symbolSize": 1300, "symbolStrokeColor": "#808080", "symbolStrokeWidth": 1.5, "symbolOpacity": 1, "labelFont": "Liberation Serif", "labelFontSize": 24, "labelOffset": 15, "columnPadding": 30, "padding": 0, "encode": {"labels": {"update": {"dx": {"signal": "datum.value == 'Regeneração' ? -13 : 0"}}}}}}}}
  ],
  "resolve": {"scale": {"y": "independent"}, "axis": {"x": "independent", "y": "independent"}}},
 {"width": 441, "height": 321,
  "layer": [
   {"layer": [
     {"data": {"name": "dM"}, "mark": {"type": "line", "strokeWidth": 1},
      "encoding": {
       "x": {"field": "t", "type": "quantitative", "scale": {"domain": [2000, 2004.5], "nice": false, "zero": false}, "axis": {"title": null, "values": [2000,2000.5,2001,2001.5,2002,2002.5,2003,2003.5,2004,2004.5], "labelExpr": "datum.value % 1 == 0 ? '' + datum.value : ''", "tickSize": {"condition": {"test": "datum.value % 1 == 0", "value": 7}, "value": 4}}},
       "y": {"field": "v", "type": "quantitative", "scale": {"domain": [40, 180], "nice": false, "zero": false}, "axis": {"title": "Q* mensal (W.m⁻²)", "titlePadding": 16, "values": [40,50,60,70,80,90,100,110,120,130,140,150,160,170,180], "labelExpr": "datum.value % 20 == 0 ? '' + datum.value : ''", "tickSize": {"condition": {"test": "datum.value % 20 == 0", "value": 7}, "value": 4}}},
       "detail": {"field": "g"},
       "stroke": {"datum": "Q* mensal (W.m-2)", "type": "nominal", "scale": {"domain": ["Q* mensal (W.m-2)", "Q* diário (W.m⁻²)\u2800\u2800\u2800\u2800"], "range": ["#000000", "#0000ff"]},
        "legend": {"title": "\u00a0", "titleOrient": "left", "titleFontSize": 10, "titlePadding": 69, "orient": "none", "legendX": -51, "legendY": -49, "direction": "horizontal", "columns": 2, "strokeColor": "black", "fillColor": "white", "padding": 8, "symbolSize": 196, "symbolStrokeWidth": 1.2, "labelOffset": 24, "columnPadding": 36, "labelFontSize": 19, "encode": {"labels": {"update": {"fill": {"signal": "indexof(datum.value, 'diário') >= 0 ? '#0000ff' : '#000000'"}}}}}}
      }},
     {"data": {"name": "dM"}, "mark": {"type": "point", "shape": "M-1,0H1M0,-1V1M-0.7,-0.7L0.7,0.7M-0.7,0.7L0.7,-0.7", "size": 196, "strokeWidth": 1.2, "filled": false, "opacity": 1},
      "encoding": {"x": {"field": "t", "type": "quantitative"}, "y": {"field": "v", "type": "quantitative"}, "stroke": {"datum": "Q* mensal (W.m-2)", "type": "nominal"}}},
     {"data": {"values": [{}]}, "mark": {"type": "text", "text": "(d)", "font": "Liberation Serif", "fontSize": 30, "align": "center", "baseline": "middle"},
      "encoding": {"x": {"datum": 2000.34, "type": "quantitative"}, "y": {"datum": 167.6, "type": "quantitative"}}}
   ]},
   {"data": {"name": "dD"}, "mark": {"type": "point", "filled": false, "size": 130, "strokeWidth": 1, "opacity": 1},
    "encoding": {
     "x": {"field": "t", "type": "quantitative", "scale": {"domain": [2000, 2004.5], "nice": false, "zero": false}, "axis": {"orient": "top", "title": null, "labels": false, "values": [2000,2000.5,2001,2001.5,2002,2002.5,2003,2003.5,2004,2004.5], "tickSize": 4}},
     "y": {"field": "v", "type": "quantitative", "scale": {"domain": [-9.6, 500], "nice": false, "zero": false}, "axis": {"orient": "right", "title": "Q* diário (W.m⁻²)", "titlePadding": 14, "labelFontSize": 22, "titleColor": "#0000ff", "labelColor": "#0000ff", "tickColor": "#0000ff", "domainColor": "#0000ff", "values": [0,25,50,75,100,125,150,175,200,225,250,275,300,325,350,375,400,425,450,475,500], "labelExpr": "datum.value % 50 == 0 ? '' + datum.value : ''", "tickSize": {"condition": {"test": "datum.value % 50 == 0", "value": 7}, "value": 4}}},
     "stroke": {"datum": "Q* diário (W.m⁻²)\u2800\u2800\u2800\u2800", "type": "nominal"},
     "shape": {"datum": "Q* diário (W.m⁻²)\u2800\u2800\u2800\u2800", "type": "nominal", "scale": {"domain": ["Q* mensal (W.m-2)", "Q* diário (W.m⁻²)\u2800\u2800\u2800\u2800"], "range": ["M-3.7,0H3.4M0,-1V1M-0.7,-0.7L0.7,0.7M-0.7,0.7L0.7,-0.7", "M-0.7,0A0.7,0.7,0,1,0,0.7,0A0.7,0.7,0,1,0,-0.7,0Z"]},
      "legend": {"title": "\u00a0", "titleOrient": "left", "titleFontSize": 10, "titlePadding": 69, "orient": "none", "legendX": -51, "legendY": -49, "direction": "horizontal", "columns": 2, "strokeColor": "black", "fillColor": "white", "padding": 8, "symbolSize": 196, "symbolStrokeWidth": 1.2, "labelOffset": 24, "columnPadding": 36, "labelFontSize": 19, "encode": {"labels": {"update": {"fill": {"signal": "indexof(datum.value, 'diário') >= 0 ? '#0000ff' : '#000000'"}}}}}}
    }},
   {"data": {"name": "shBD"}, "mark": {"type": "rect", "stroke": "#222222", "strokeWidth": 1.3, "strokeDash": [7, 3, 2, 3], "fillOpacity": 0.75},
    "encoding": {"x": {"field": "t0", "type": "quantitative", "scale": {"domain": [2000, 2004.5], "nice": false, "zero": false}, "axis": null}, "x2": {"field": "t1"},
     "y": {"datum": 180, "type": "quantitative", "scale": {"domain": [40, 180], "nice": false, "zero": false}, "axis": null}, "y2": {"datum": 40},
     "fill": {"field": "k", "type": "nominal", "scale": {"domain": ["Período da exploração"], "range": ["#b2cce7"]},
      "legend": {"title": null, "orient": "none", "legendX": 67, "legendY": 375, "direction": "horizontal", "symbolType": "square", "symbolSize": 1300, "symbolStrokeColor": "#444444", "symbolStrokeWidth": 1.5, "symbolDash": [6, 3, 2, 3], "symbolOpacity": 0.8, "labelFont": "Liberation Serif", "labelFontSize": 24, "labelOffset": 16, "padding": 0}}}}
  ],
  "resolve": {"scale": {"y": "independent"}, "axis": {"x": "independent", "y": "independent"}}},
 {"width": 449, "height": 324,
  "layer": [
   {"layer": [
     {"data": {"name": "eM"}, "mark": {"type": "line", "strokeWidth": 1},
      "encoding": {
       "x": {"field": "t", "type": "quantitative", "scale": {"domain": [2001.81, 2006.51], "nice": false, "zero": false}, "axis": {"title": null, "values": [2002,2002.5,2003,2003.5,2004,2004.5,2005,2005.5,2006,2006.5], "labelExpr": "datum.value % 1 == 0 ? '' + datum.value : ''", "tickSize": {"condition": {"test": "datum.value % 1 == 0", "value": 7}, "value": 4}}},
       "y": {"field": "v", "type": "quantitative", "scale": {"domain": [40, 180], "nice": false, "zero": false}, "axis": {"title": "Q* mensal (W.m⁻²)", "titlePadding": 16, "values": [40,50,60,70,80,90,100,110,120,130,140,150,160,170,180], "labelExpr": "datum.value % 20 == 0 ? '' + datum.value : ''", "tickSize": {"condition": {"test": "datum.value % 20 == 0", "value": 7}, "value": 4}}},
       "detail": {"field": "g"},
       "stroke": {"datum": "Q*\u00a0 mensal (W.m-2)", "type": "nominal", "scale": {"domain": ["Q*\u00a0 mensal (W.m-2)", "Q* diário (W.m⁻²)\u00a0\u2800\u2800\u2800\u2800"], "range": ["#000000", "#0000ff"]},
        "legend": {"title": "\u00a0", "titleOrient": "left", "titleFontSize": 10, "titlePadding": 70, "orient": "none", "legendX": -44, "legendY": -48, "direction": "horizontal", "columns": 2, "strokeColor": "black", "fillColor": "white", "padding": 8, "symbolSize": 196, "symbolStrokeWidth": 1.2, "labelOffset": 25, "columnPadding": 39, "labelFontSize": 19, "encode": {"labels": {"update": {"fill": {"signal": "indexof(datum.value, 'diário') >= 0 ? '#0000ff' : '#000000'"}}}}}}
      }},
     {"data": {"name": "eM"}, "mark": {"type": "point", "shape": "M-1,0H1M0,-1V1M-0.7,-0.7L0.7,0.7M-0.7,0.7L0.7,-0.7", "size": 196, "strokeWidth": 1.2, "filled": false, "opacity": 1},
      "encoding": {"x": {"field": "t", "type": "quantitative"}, "y": {"field": "v", "type": "quantitative"}, "stroke": {"datum": "Q*\u00a0 mensal (W.m-2)", "type": "nominal"}}},
     {"data": {"values": [{}]}, "mark": {"type": "text", "text": "(e)", "font": "Liberation Serif", "fontSize": 30, "align": "center", "baseline": "middle"},
      "encoding": {"x": {"datum": 2002.19, "type": "quantitative"}, "y": {"datum": 167, "type": "quantitative"}}}
   ]},
   {"data": {"name": "eD"}, "mark": {"type": "point", "filled": false, "size": 130, "strokeWidth": 1, "opacity": 1},
    "encoding": {
     "x": {"field": "t", "type": "quantitative", "scale": {"domain": [2001.81, 2006.51], "nice": false, "zero": false}, "axis": {"orient": "top", "title": null, "labels": false, "values": [2002,2002.5,2003,2003.5,2004,2004.5,2005,2005.5,2006,2006.5], "tickSize": 4}},
     "y": {"field": "v", "type": "quantitative", "scale": {"domain": [-9.4, 500], "nice": false, "zero": false}, "axis": {"orient": "right", "title": "Q* diário (W.m⁻²)", "titlePadding": 14, "labelFontSize": 22, "titleColor": "#0000ff", "labelColor": "#0000ff", "tickColor": "#0000ff", "domainColor": "#0000ff", "values": [0,25,50,75,100,125,150,175,200,225,250,275,300,325,350,375,400,425,450,475,500], "labelExpr": "datum.value % 50 == 0 ? '' + datum.value : ''", "tickSize": {"condition": {"test": "datum.value % 50 == 0", "value": 7}, "value": 4}}},
     "stroke": {"datum": "Q* diário (W.m⁻²)\u00a0\u2800\u2800\u2800\u2800", "type": "nominal"},
     "shape": {"datum": "Q* diário (W.m⁻²)\u00a0\u2800\u2800\u2800\u2800", "type": "nominal", "scale": {"domain": ["Q*\u00a0 mensal (W.m-2)", "Q* diário (W.m⁻²)\u00a0\u2800\u2800\u2800\u2800"], "range": ["M-3.7,0H3.4M0,-1V1M-0.7,-0.7L0.7,0.7M-0.7,0.7L0.7,-0.7", "M-0.7,0A0.7,0.7,0,1,0,0.7,0A0.7,0.7,0,1,0,-0.7,0Z"]},
      "legend": {"title": "\u00a0", "titleOrient": "left", "titleFontSize": 10, "titlePadding": 70, "orient": "none", "legendX": -44, "legendY": -48, "direction": "horizontal", "columns": 2, "strokeColor": "black", "fillColor": "white", "padding": 8, "symbolSize": 196, "symbolStrokeWidth": 1.2, "labelOffset": 25, "columnPadding": 39, "labelFontSize": 19, "encode": {"labels": {"update": {"fill": {"signal": "indexof(datum.value, 'diário') >= 0 ? '#0000ff' : '#000000'"}}}}}}
    }}
  ],
  "resolve": {"scale": {"y": "independent"}, "axis": {"x": "independent", "y": "independent"}}}
]
}
